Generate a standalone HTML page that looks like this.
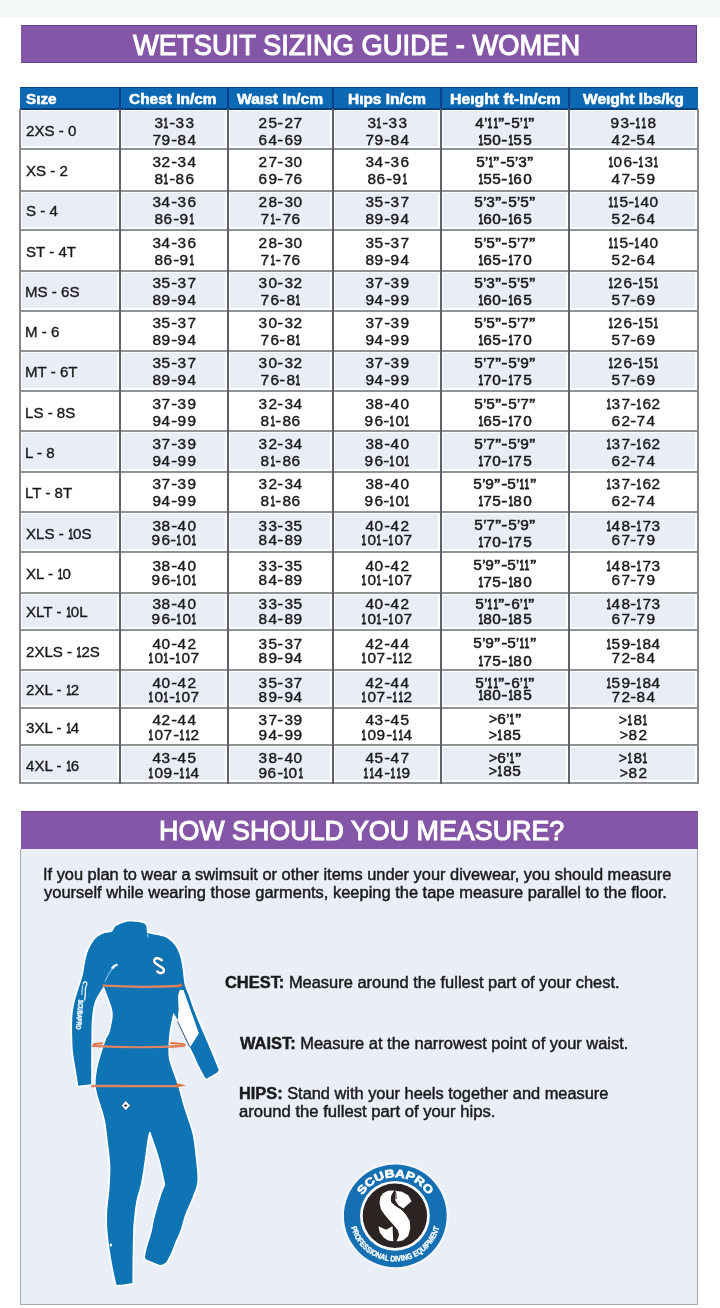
<!DOCTYPE html>
<html><head><meta charset="utf-8">
<style>
html,body{margin:0;padding:0;}
body{width:720px;height:1308px;position:relative;overflow:hidden;background:#fff;font-family:"Liberation Sans",sans-serif;color:#1a1a1c;}
.a{position:absolute;}
.t{position:absolute;white-space:nowrap;line-height:1;transform-origin:0 0;}
#wrap{position:absolute;left:0;top:0;width:720px;height:1308px;will-change:transform;}
.w{color:#fff;font-weight:bold;}
.b{font-weight:bold;}
.d{-webkit-text-stroke:0.4px #1a1a1c;color:#1a1a1c;}
.h{-webkit-text-stroke:0.5px #1a1a1c;color:#1a1a1c;}
.p{-webkit-text-stroke:0.45px #1a1a1c;color:#1a1a1c;}
.w{-webkit-text-stroke:0.3px #fff;}
.ns{-webkit-text-stroke:0;}
.tt{font-weight:normal;-webkit-text-stroke:1.1px #fff;}
.tt2{font-weight:normal;-webkit-text-stroke:1.1px #fff;}
.hx{-webkit-text-stroke:0.55px #fff;}
.lb{-webkit-text-stroke:0.35px #1a1a1c;color:#1a1a1c;}
.t i{display:inline-flex;justify-content:center;font-style:normal;}
.shade{background:#e9edf5;}
.t i.o1{display:inline-block;transform:scaleX(0.6);margin:0 -1.55px;-webkit-text-stroke:0.8px #1a1a1c;}
.d .o{-webkit-text-stroke:0.9px #1a1a1c;}
.h .o{-webkit-text-stroke:1.0px #1a1a1c;}
.hl{height:2px;background:#8f9296;}
.vl{width:2px;background:#5e6168;}
.vb{width:2px;background:#85878b;}
.vh{width:2px;background:#0d3f86;}
</style></head><body>
<div id="wrap">
<div class="a" style="left:0;top:0;width:720px;height:17px;background:#f4f7f7;"></div>
<div class="a" style="left:21px;top:24.5px;width:676px;height:38.5px;background:#8556a7;border-top:1px solid #6a4589;border-right:1px solid #5e3f80;border-bottom:1px solid #6a4589;box-sizing:border-box;"></div>
<div class="t w tt" style="left:133.11px;top:31.45px;font-size:29px;transform:scaleX(0.9418);">WETSUIT SIZING GUIDE - WOMEN</div>
<div class="a shade" style="left:22.3px;top:110.6px;width:95.2px;height:35.9px;"></div><div class="a shade" style="left:122.3px;top:110.6px;width:103.2px;height:35.9px;"></div><div class="a shade" style="left:230.3px;top:110.6px;width:100.2px;height:35.9px;"></div><div class="a shade" style="left:335.3px;top:110.6px;width:103.2px;height:35.9px;"></div><div class="a shade" style="left:443.3px;top:110.6px;width:123.2px;height:35.9px;"></div><div class="a shade" style="left:571.3px;top:110.6px;width:124.2px;height:35.9px;"></div>
<div class="a shade" style="left:22.3px;top:193.2px;width:95.2px;height:34.3px;"></div><div class="a shade" style="left:122.3px;top:193.2px;width:103.2px;height:34.3px;"></div><div class="a shade" style="left:230.3px;top:193.2px;width:100.2px;height:34.3px;"></div><div class="a shade" style="left:335.3px;top:193.2px;width:103.2px;height:34.3px;"></div><div class="a shade" style="left:443.3px;top:193.2px;width:123.2px;height:34.3px;"></div><div class="a shade" style="left:571.3px;top:193.2px;width:124.2px;height:34.3px;"></div>
<div class="a shade" style="left:22.3px;top:273.2px;width:95.2px;height:35.3px;"></div><div class="a shade" style="left:122.3px;top:273.2px;width:103.2px;height:35.3px;"></div><div class="a shade" style="left:230.3px;top:273.2px;width:100.2px;height:35.3px;"></div><div class="a shade" style="left:335.3px;top:273.2px;width:103.2px;height:35.3px;"></div><div class="a shade" style="left:443.3px;top:273.2px;width:123.2px;height:35.3px;"></div><div class="a shade" style="left:571.3px;top:273.2px;width:124.2px;height:35.3px;"></div>
<div class="a shade" style="left:22.3px;top:353.2px;width:95.2px;height:35.3px;"></div><div class="a shade" style="left:122.3px;top:353.2px;width:103.2px;height:35.3px;"></div><div class="a shade" style="left:230.3px;top:353.2px;width:100.2px;height:35.3px;"></div><div class="a shade" style="left:335.3px;top:353.2px;width:103.2px;height:35.3px;"></div><div class="a shade" style="left:443.3px;top:353.2px;width:123.2px;height:35.3px;"></div><div class="a shade" style="left:571.3px;top:353.2px;width:124.2px;height:35.3px;"></div>
<div class="a shade" style="left:22.3px;top:433.2px;width:95.2px;height:36.3px;"></div><div class="a shade" style="left:122.3px;top:433.2px;width:103.2px;height:36.3px;"></div><div class="a shade" style="left:230.3px;top:433.2px;width:100.2px;height:36.3px;"></div><div class="a shade" style="left:335.3px;top:433.2px;width:103.2px;height:36.3px;"></div><div class="a shade" style="left:443.3px;top:433.2px;width:123.2px;height:36.3px;"></div><div class="a shade" style="left:571.3px;top:433.2px;width:124.2px;height:36.3px;"></div>
<div class="a shade" style="left:22.3px;top:514.2px;width:95.2px;height:35.3px;"></div><div class="a shade" style="left:122.3px;top:514.2px;width:103.2px;height:35.3px;"></div><div class="a shade" style="left:230.3px;top:514.2px;width:100.2px;height:35.3px;"></div><div class="a shade" style="left:335.3px;top:514.2px;width:103.2px;height:35.3px;"></div><div class="a shade" style="left:443.3px;top:514.2px;width:123.2px;height:35.3px;"></div><div class="a shade" style="left:571.3px;top:514.2px;width:124.2px;height:35.3px;"></div>
<div class="a shade" style="left:22.3px;top:595.2px;width:95.2px;height:32.3px;"></div><div class="a shade" style="left:122.3px;top:595.2px;width:103.2px;height:32.3px;"></div><div class="a shade" style="left:230.3px;top:595.2px;width:100.2px;height:32.3px;"></div><div class="a shade" style="left:335.3px;top:595.2px;width:103.2px;height:32.3px;"></div><div class="a shade" style="left:443.3px;top:595.2px;width:123.2px;height:32.3px;"></div><div class="a shade" style="left:571.3px;top:595.2px;width:124.2px;height:32.3px;"></div>
<div class="a shade" style="left:22.3px;top:672.2px;width:95.2px;height:33.3px;"></div><div class="a shade" style="left:122.3px;top:672.2px;width:103.2px;height:33.3px;"></div><div class="a shade" style="left:230.3px;top:672.2px;width:100.2px;height:33.3px;"></div><div class="a shade" style="left:335.3px;top:672.2px;width:103.2px;height:33.3px;"></div><div class="a shade" style="left:443.3px;top:672.2px;width:123.2px;height:33.3px;"></div><div class="a shade" style="left:571.3px;top:672.2px;width:124.2px;height:33.3px;"></div>
<div class="a shade" style="left:22.3px;top:747.2px;width:95.2px;height:33.3px;"></div><div class="a shade" style="left:122.3px;top:747.2px;width:103.2px;height:33.3px;"></div><div class="a shade" style="left:230.3px;top:747.2px;width:100.2px;height:33.3px;"></div><div class="a shade" style="left:335.3px;top:747.2px;width:103.2px;height:33.3px;"></div><div class="a shade" style="left:443.3px;top:747.2px;width:123.2px;height:33.3px;"></div><div class="a shade" style="left:571.3px;top:747.2px;width:124.2px;height:33.3px;"></div>
<div class="a" style="left:20px;top:86.5px;width:678px;height:23px;background:#0d68b3;border-top:1px solid #0a4488;border-bottom:2px solid #0b3e7e;box-sizing:border-box;"></div>
<div class="t w hx" style="left:26.06px;top:91.55px;font-size:14px;transform:scaleX(1.0886);">Sıze</div>
<div class="t w hx" style="left:129.34px;top:91.55px;font-size:14px;transform:scaleX(1.1040);">Chest In/cm</div>
<div class="t w hx" style="left:237.10px;top:91.55px;font-size:14px;transform:scaleX(1.1152);">Waıst In/cm</div>
<div class="t w hx" style="left:348.01px;top:91.55px;font-size:14px;transform:scaleX(1.1014);">Hıps In/cm</div>
<div class="t w hx" style="left:449.98px;top:91.55px;font-size:14px;transform:scaleX(1.1279);">Heıght ft-In/cm</div>
<div class="t w hx" style="left:583.00px;top:91.55px;font-size:14px;transform:scaleX(1.1102);">Weıght lbs/kg</div>
<div class="a vh" style="left:119px;top:87px;height:22px;"></div>
<div class="a vh" style="left:227px;top:87px;height:22px;"></div>
<div class="a vh" style="left:332px;top:87px;height:22px;"></div>
<div class="a vh" style="left:440px;top:87px;height:22px;"></div>
<div class="a vh" style="left:568px;top:87px;height:22px;"></div>
<div class="a hl" style="left:19px;top:148px;width:680px;"></div>
<div class="a hl" style="left:19px;top:190px;width:680px;"></div>
<div class="a hl" style="left:19px;top:229px;width:680px;"></div>
<div class="a hl" style="left:19px;top:270px;width:680px;"></div>
<div class="a hl" style="left:19px;top:310px;width:680px;"></div>
<div class="a hl" style="left:19px;top:350px;width:680px;"></div>
<div class="a hl" style="left:19px;top:390px;width:680px;"></div>
<div class="a hl" style="left:19px;top:430px;width:680px;"></div>
<div class="a hl" style="left:19px;top:471px;width:680px;"></div>
<div class="a hl" style="left:19px;top:511px;width:680px;"></div>
<div class="a hl" style="left:19px;top:551px;width:680px;"></div>
<div class="a hl" style="left:19px;top:592px;width:680px;"></div>
<div class="a hl" style="left:19px;top:629px;width:680px;"></div>
<div class="a hl" style="left:19px;top:669px;width:680px;"></div>
<div class="a hl" style="left:19px;top:707px;width:680px;"></div>
<div class="a hl" style="left:19px;top:744px;width:680px;"></div>
<div class="a hl" style="left:19px;top:782px;width:680px;"></div>
<div class="a vb" style="left:19px;top:109px;height:675px;"></div>
<div class="a vl" style="left:119px;top:109px;height:675px;"></div>
<div class="a vl" style="left:227px;top:109px;height:675px;"></div>
<div class="a vl" style="left:332px;top:109px;height:675px;"></div>
<div class="a vl" style="left:440px;top:109px;height:675px;"></div>
<div class="a vl" style="left:568px;top:109px;height:675px;"></div>
<div class="a vb" style="left:697px;top:109px;height:675px;"></div>
<div class="t lb" style="left:25.87px;top:123.98px;font-size:14.5px;transform:scaleX(1.04);">2XS - 0</div>
<div class="t d" style="left:153.85px;top:115.95px;font-size:14px;"><i style="width:9.5px;transform:scaleX(1.1)">3</i><i class="o" style="width:5.6px;transform:scaleX(0.6)">1</i><i style="width:6.2px;transform:scaleX(1.25)">-</i><i style="width:9.5px;transform:scaleX(1.1)">3</i><i style="width:9.5px;transform:scaleX(1.1)">3</i></div><div class="t d" style="left:151.90px;top:132.85px;font-size:14px;"><i style="width:9.5px;transform:scaleX(1.1)">7</i><i style="width:9.5px;transform:scaleX(1.1)">9</i><i style="width:6.2px;transform:scaleX(1.25)">-</i><i style="width:9.5px;transform:scaleX(1.1)">8</i><i style="width:9.5px;transform:scaleX(1.1)">4</i></div>
<div class="t d" style="left:258.40px;top:115.95px;font-size:14px;"><i style="width:9.5px;transform:scaleX(1.1)">2</i><i style="width:9.5px;transform:scaleX(1.1)">5</i><i style="width:6.2px;transform:scaleX(1.25)">-</i><i style="width:9.5px;transform:scaleX(1.1)">2</i><i style="width:9.5px;transform:scaleX(1.1)">7</i></div><div class="t d" style="left:258.40px;top:132.85px;font-size:14px;"><i style="width:9.5px;transform:scaleX(1.1)">6</i><i style="width:9.5px;transform:scaleX(1.1)">4</i><i style="width:6.2px;transform:scaleX(1.25)">-</i><i style="width:9.5px;transform:scaleX(1.1)">6</i><i style="width:9.5px;transform:scaleX(1.1)">9</i></div>
<div class="t d" style="left:366.85px;top:115.95px;font-size:14px;"><i style="width:9.5px;transform:scaleX(1.1)">3</i><i class="o" style="width:5.6px;transform:scaleX(0.6)">1</i><i style="width:6.2px;transform:scaleX(1.25)">-</i><i style="width:9.5px;transform:scaleX(1.1)">3</i><i style="width:9.5px;transform:scaleX(1.1)">3</i></div><div class="t d" style="left:364.90px;top:132.85px;font-size:14px;"><i style="width:9.5px;transform:scaleX(1.1)">7</i><i style="width:9.5px;transform:scaleX(1.1)">9</i><i style="width:6.2px;transform:scaleX(1.25)">-</i><i style="width:9.5px;transform:scaleX(1.1)">8</i><i style="width:9.5px;transform:scaleX(1.1)">4</i></div>
<div class="t h" style="left:475.25px;top:115.95px;font-size:14px;"><i style="width:9.2px;transform:scaleX(1.1)">4</i><i style="width:2.6px;transform:scaleX(1.0)">’</i><i class="o" style="width:5.5px;transform:scaleX(0.6)">1</i><i class="o" style="width:5.5px;transform:scaleX(0.6)">1</i><i style="width:6.2px;transform:scaleX(1.25)">”</i><i style="width:6.5px;transform:scaleX(1.3)">-</i><i style="width:9.2px;transform:scaleX(1.1)">5</i><i style="width:2.6px;transform:scaleX(1.0)">’</i><i class="o" style="width:5.5px;transform:scaleX(0.6)">1</i><i style="width:6.2px;transform:scaleX(1.25)">”</i></div><div class="t h" style="left:477.60px;top:132.85px;font-size:14px;"><i class="o" style="width:5.5px;transform:scaleX(0.6)">1</i><i style="width:9.2px;transform:scaleX(1.1)">5</i><i style="width:9.2px;transform:scaleX(1.1)">0</i><i style="width:6.5px;transform:scaleX(1.3)">-</i><i class="o" style="width:5.5px;transform:scaleX(0.6)">1</i><i style="width:9.2px;transform:scaleX(1.1)">5</i><i style="width:9.2px;transform:scaleX(1.1)">5</i></div>
<div class="t d" style="left:610.30px;top:115.95px;font-size:14px;"><i style="width:9.5px;transform:scaleX(1.1)">9</i><i style="width:9.5px;transform:scaleX(1.1)">3</i><i style="width:6.2px;transform:scaleX(1.25)">-</i><i class="o" style="width:5.6px;transform:scaleX(0.6)">1</i><i class="o" style="width:5.6px;transform:scaleX(0.6)">1</i><i style="width:9.5px;transform:scaleX(1.1)">8</i></div><div class="t d" style="left:611.15px;top:132.85px;font-size:14px;"><i style="width:9.5px;transform:scaleX(1.1)">4</i><i style="width:9.5px;transform:scaleX(1.1)">2</i><i style="width:6.2px;transform:scaleX(1.25)">-</i><i style="width:9.5px;transform:scaleX(1.1)">5</i><i style="width:9.5px;transform:scaleX(1.1)">4</i></div>
<div class="t lb" style="left:26.18px;top:164.23px;font-size:14.5px;transform:scaleX(1.04);">XS - 2</div>
<div class="t d" style="left:151.90px;top:155.25px;font-size:14px;"><i style="width:9.5px;transform:scaleX(1.1)">3</i><i style="width:9.5px;transform:scaleX(1.1)">2</i><i style="width:6.2px;transform:scaleX(1.25)">-</i><i style="width:9.5px;transform:scaleX(1.1)">3</i><i style="width:9.5px;transform:scaleX(1.1)">4</i></div><div class="t d" style="left:153.85px;top:172.45px;font-size:14px;"><i style="width:9.5px;transform:scaleX(1.1)">8</i><i class="o" style="width:5.6px;transform:scaleX(0.6)">1</i><i style="width:6.2px;transform:scaleX(1.25)">-</i><i style="width:9.5px;transform:scaleX(1.1)">8</i><i style="width:9.5px;transform:scaleX(1.1)">6</i></div>
<div class="t d" style="left:258.40px;top:155.25px;font-size:14px;"><i style="width:9.5px;transform:scaleX(1.1)">2</i><i style="width:9.5px;transform:scaleX(1.1)">7</i><i style="width:6.2px;transform:scaleX(1.25)">-</i><i style="width:9.5px;transform:scaleX(1.1)">3</i><i style="width:9.5px;transform:scaleX(1.1)">0</i></div><div class="t d" style="left:258.40px;top:172.45px;font-size:14px;"><i style="width:9.5px;transform:scaleX(1.1)">6</i><i style="width:9.5px;transform:scaleX(1.1)">9</i><i style="width:6.2px;transform:scaleX(1.25)">-</i><i style="width:9.5px;transform:scaleX(1.1)">7</i><i style="width:9.5px;transform:scaleX(1.1)">6</i></div>
<div class="t d" style="left:364.90px;top:155.25px;font-size:14px;"><i style="width:9.5px;transform:scaleX(1.1)">3</i><i style="width:9.5px;transform:scaleX(1.1)">4</i><i style="width:6.2px;transform:scaleX(1.25)">-</i><i style="width:9.5px;transform:scaleX(1.1)">3</i><i style="width:9.5px;transform:scaleX(1.1)">6</i></div><div class="t d" style="left:366.85px;top:172.45px;font-size:14px;"><i style="width:9.5px;transform:scaleX(1.1)">8</i><i style="width:9.5px;transform:scaleX(1.1)">6</i><i style="width:6.2px;transform:scaleX(1.25)">-</i><i style="width:9.5px;transform:scaleX(1.1)">9</i><i class="o" style="width:5.6px;transform:scaleX(0.6)">1</i></div>
<div class="t h" style="left:476.15px;top:155.25px;font-size:14px;"><i style="width:9.2px;transform:scaleX(1.1)">5</i><i style="width:2.6px;transform:scaleX(1.0)">’</i><i class="o" style="width:5.5px;transform:scaleX(0.6)">1</i><i style="width:6.2px;transform:scaleX(1.25)">”</i><i style="width:6.5px;transform:scaleX(1.3)">-</i><i style="width:9.2px;transform:scaleX(1.1)">5</i><i style="width:2.6px;transform:scaleX(1.0)">’</i><i style="width:9.2px;transform:scaleX(1.1)">3</i><i style="width:6.2px;transform:scaleX(1.25)">”</i></div><div class="t h" style="left:477.60px;top:172.45px;font-size:14px;"><i class="o" style="width:5.5px;transform:scaleX(0.6)">1</i><i style="width:9.2px;transform:scaleX(1.1)">5</i><i style="width:9.2px;transform:scaleX(1.1)">5</i><i style="width:6.5px;transform:scaleX(1.3)">-</i><i class="o" style="width:5.5px;transform:scaleX(0.6)">1</i><i style="width:9.2px;transform:scaleX(1.1)">6</i><i style="width:9.2px;transform:scaleX(1.1)">0</i></div>
<div class="t d" style="left:607.50px;top:155.25px;font-size:14px;"><i class="o" style="width:5.6px;transform:scaleX(0.6)">1</i><i style="width:9.5px;transform:scaleX(1.1)">0</i><i style="width:9.5px;transform:scaleX(1.1)">6</i><i style="width:6.2px;transform:scaleX(1.25)">-</i><i class="o" style="width:5.6px;transform:scaleX(0.6)">1</i><i style="width:9.5px;transform:scaleX(1.1)">3</i><i class="o" style="width:5.6px;transform:scaleX(0.6)">1</i></div><div class="t d" style="left:611.15px;top:172.45px;font-size:14px;"><i style="width:9.5px;transform:scaleX(1.1)">4</i><i style="width:9.5px;transform:scaleX(1.1)">7</i><i style="width:6.2px;transform:scaleX(1.25)">-</i><i style="width:9.5px;transform:scaleX(1.1)">5</i><i style="width:9.5px;transform:scaleX(1.1)">9</i></div>
<div class="t lb" style="left:25.87px;top:204.13px;font-size:14.5px;transform:scaleX(1.04);">S - 4</div>
<div class="t d" style="left:151.90px;top:195.25px;font-size:14px;"><i style="width:9.5px;transform:scaleX(1.1)">3</i><i style="width:9.5px;transform:scaleX(1.1)">4</i><i style="width:6.2px;transform:scaleX(1.25)">-</i><i style="width:9.5px;transform:scaleX(1.1)">3</i><i style="width:9.5px;transform:scaleX(1.1)">6</i></div><div class="t d" style="left:153.85px;top:212.25px;font-size:14px;"><i style="width:9.5px;transform:scaleX(1.1)">8</i><i style="width:9.5px;transform:scaleX(1.1)">6</i><i style="width:6.2px;transform:scaleX(1.25)">-</i><i style="width:9.5px;transform:scaleX(1.1)">9</i><i class="o" style="width:5.6px;transform:scaleX(0.6)">1</i></div>
<div class="t d" style="left:258.40px;top:195.25px;font-size:14px;"><i style="width:9.5px;transform:scaleX(1.1)">2</i><i style="width:9.5px;transform:scaleX(1.1)">8</i><i style="width:6.2px;transform:scaleX(1.25)">-</i><i style="width:9.5px;transform:scaleX(1.1)">3</i><i style="width:9.5px;transform:scaleX(1.1)">0</i></div><div class="t d" style="left:260.35px;top:212.25px;font-size:14px;"><i style="width:9.5px;transform:scaleX(1.1)">7</i><i class="o" style="width:5.6px;transform:scaleX(0.6)">1</i><i style="width:6.2px;transform:scaleX(1.25)">-</i><i style="width:9.5px;transform:scaleX(1.1)">7</i><i style="width:9.5px;transform:scaleX(1.1)">6</i></div>
<div class="t d" style="left:364.90px;top:195.25px;font-size:14px;"><i style="width:9.5px;transform:scaleX(1.1)">3</i><i style="width:9.5px;transform:scaleX(1.1)">5</i><i style="width:6.2px;transform:scaleX(1.25)">-</i><i style="width:9.5px;transform:scaleX(1.1)">3</i><i style="width:9.5px;transform:scaleX(1.1)">7</i></div><div class="t d" style="left:364.90px;top:212.25px;font-size:14px;"><i style="width:9.5px;transform:scaleX(1.1)">8</i><i style="width:9.5px;transform:scaleX(1.1)">9</i><i style="width:6.2px;transform:scaleX(1.25)">-</i><i style="width:9.5px;transform:scaleX(1.1)">9</i><i style="width:9.5px;transform:scaleX(1.1)">4</i></div>
<div class="t h" style="left:474.30px;top:195.25px;font-size:14px;"><i style="width:9.2px;transform:scaleX(1.1)">5</i><i style="width:2.6px;transform:scaleX(1.0)">’</i><i style="width:9.2px;transform:scaleX(1.1)">3</i><i style="width:6.2px;transform:scaleX(1.25)">”</i><i style="width:6.5px;transform:scaleX(1.3)">-</i><i style="width:9.2px;transform:scaleX(1.1)">5</i><i style="width:2.6px;transform:scaleX(1.0)">’</i><i style="width:9.2px;transform:scaleX(1.1)">5</i><i style="width:6.2px;transform:scaleX(1.25)">”</i></div><div class="t h" style="left:477.60px;top:212.25px;font-size:14px;"><i class="o" style="width:5.5px;transform:scaleX(0.6)">1</i><i style="width:9.2px;transform:scaleX(1.1)">6</i><i style="width:9.2px;transform:scaleX(1.1)">0</i><i style="width:6.5px;transform:scaleX(1.3)">-</i><i class="o" style="width:5.5px;transform:scaleX(0.6)">1</i><i style="width:9.2px;transform:scaleX(1.1)">6</i><i style="width:9.2px;transform:scaleX(1.1)">5</i></div>
<div class="t d" style="left:607.50px;top:195.25px;font-size:14px;"><i class="o" style="width:5.6px;transform:scaleX(0.6)">1</i><i class="o" style="width:5.6px;transform:scaleX(0.6)">1</i><i style="width:9.5px;transform:scaleX(1.1)">5</i><i style="width:6.2px;transform:scaleX(1.25)">-</i><i class="o" style="width:5.6px;transform:scaleX(0.6)">1</i><i style="width:9.5px;transform:scaleX(1.1)">4</i><i style="width:9.5px;transform:scaleX(1.1)">0</i></div><div class="t d" style="left:611.15px;top:212.25px;font-size:14px;"><i style="width:9.5px;transform:scaleX(1.1)">5</i><i style="width:9.5px;transform:scaleX(1.1)">2</i><i style="width:6.2px;transform:scaleX(1.25)">-</i><i style="width:9.5px;transform:scaleX(1.1)">6</i><i style="width:9.5px;transform:scaleX(1.1)">4</i></div>
<div class="t lb" style="left:25.87px;top:245.23px;font-size:14.5px;transform:scaleX(1.04);">ST - 4T</div>
<div class="t d" style="left:151.90px;top:236.35px;font-size:14px;"><i style="width:9.5px;transform:scaleX(1.1)">3</i><i style="width:9.5px;transform:scaleX(1.1)">4</i><i style="width:6.2px;transform:scaleX(1.25)">-</i><i style="width:9.5px;transform:scaleX(1.1)">3</i><i style="width:9.5px;transform:scaleX(1.1)">6</i></div><div class="t d" style="left:153.85px;top:253.35px;font-size:14px;"><i style="width:9.5px;transform:scaleX(1.1)">8</i><i style="width:9.5px;transform:scaleX(1.1)">6</i><i style="width:6.2px;transform:scaleX(1.25)">-</i><i style="width:9.5px;transform:scaleX(1.1)">9</i><i class="o" style="width:5.6px;transform:scaleX(0.6)">1</i></div>
<div class="t d" style="left:258.40px;top:236.35px;font-size:14px;"><i style="width:9.5px;transform:scaleX(1.1)">2</i><i style="width:9.5px;transform:scaleX(1.1)">8</i><i style="width:6.2px;transform:scaleX(1.25)">-</i><i style="width:9.5px;transform:scaleX(1.1)">3</i><i style="width:9.5px;transform:scaleX(1.1)">0</i></div><div class="t d" style="left:260.35px;top:253.35px;font-size:14px;"><i style="width:9.5px;transform:scaleX(1.1)">7</i><i class="o" style="width:5.6px;transform:scaleX(0.6)">1</i><i style="width:6.2px;transform:scaleX(1.25)">-</i><i style="width:9.5px;transform:scaleX(1.1)">7</i><i style="width:9.5px;transform:scaleX(1.1)">6</i></div>
<div class="t d" style="left:364.90px;top:236.35px;font-size:14px;"><i style="width:9.5px;transform:scaleX(1.1)">3</i><i style="width:9.5px;transform:scaleX(1.1)">5</i><i style="width:6.2px;transform:scaleX(1.25)">-</i><i style="width:9.5px;transform:scaleX(1.1)">3</i><i style="width:9.5px;transform:scaleX(1.1)">7</i></div><div class="t d" style="left:364.90px;top:253.35px;font-size:14px;"><i style="width:9.5px;transform:scaleX(1.1)">8</i><i style="width:9.5px;transform:scaleX(1.1)">9</i><i style="width:6.2px;transform:scaleX(1.25)">-</i><i style="width:9.5px;transform:scaleX(1.1)">9</i><i style="width:9.5px;transform:scaleX(1.1)">4</i></div>
<div class="t h" style="left:474.30px;top:236.35px;font-size:14px;"><i style="width:9.2px;transform:scaleX(1.1)">5</i><i style="width:2.6px;transform:scaleX(1.0)">’</i><i style="width:9.2px;transform:scaleX(1.1)">5</i><i style="width:6.2px;transform:scaleX(1.25)">”</i><i style="width:6.5px;transform:scaleX(1.3)">-</i><i style="width:9.2px;transform:scaleX(1.1)">5</i><i style="width:2.6px;transform:scaleX(1.0)">’</i><i style="width:9.2px;transform:scaleX(1.1)">7</i><i style="width:6.2px;transform:scaleX(1.25)">”</i></div><div class="t h" style="left:477.60px;top:253.35px;font-size:14px;"><i class="o" style="width:5.5px;transform:scaleX(0.6)">1</i><i style="width:9.2px;transform:scaleX(1.1)">6</i><i style="width:9.2px;transform:scaleX(1.1)">5</i><i style="width:6.5px;transform:scaleX(1.3)">-</i><i class="o" style="width:5.5px;transform:scaleX(0.6)">1</i><i style="width:9.2px;transform:scaleX(1.1)">7</i><i style="width:9.2px;transform:scaleX(1.1)">0</i></div>
<div class="t d" style="left:607.50px;top:236.35px;font-size:14px;"><i class="o" style="width:5.6px;transform:scaleX(0.6)">1</i><i class="o" style="width:5.6px;transform:scaleX(0.6)">1</i><i style="width:9.5px;transform:scaleX(1.1)">5</i><i style="width:6.2px;transform:scaleX(1.25)">-</i><i class="o" style="width:5.6px;transform:scaleX(0.6)">1</i><i style="width:9.5px;transform:scaleX(1.1)">4</i><i style="width:9.5px;transform:scaleX(1.1)">0</i></div><div class="t d" style="left:611.15px;top:253.35px;font-size:14px;"><i style="width:9.5px;transform:scaleX(1.1)">5</i><i style="width:9.5px;transform:scaleX(1.1)">2</i><i style="width:6.2px;transform:scaleX(1.25)">-</i><i style="width:9.5px;transform:scaleX(1.1)">6</i><i style="width:9.5px;transform:scaleX(1.1)">4</i></div>
<div class="t lb" style="left:25.35px;top:285.23px;font-size:14.5px;transform:scaleX(1.04);">MS - 6S</div>
<div class="t d" style="left:151.90px;top:276.35px;font-size:14px;"><i style="width:9.5px;transform:scaleX(1.1)">3</i><i style="width:9.5px;transform:scaleX(1.1)">5</i><i style="width:6.2px;transform:scaleX(1.25)">-</i><i style="width:9.5px;transform:scaleX(1.1)">3</i><i style="width:9.5px;transform:scaleX(1.1)">7</i></div><div class="t d" style="left:151.90px;top:293.35px;font-size:14px;"><i style="width:9.5px;transform:scaleX(1.1)">8</i><i style="width:9.5px;transform:scaleX(1.1)">9</i><i style="width:6.2px;transform:scaleX(1.25)">-</i><i style="width:9.5px;transform:scaleX(1.1)">9</i><i style="width:9.5px;transform:scaleX(1.1)">4</i></div>
<div class="t d" style="left:258.40px;top:276.35px;font-size:14px;"><i style="width:9.5px;transform:scaleX(1.1)">3</i><i style="width:9.5px;transform:scaleX(1.1)">0</i><i style="width:6.2px;transform:scaleX(1.25)">-</i><i style="width:9.5px;transform:scaleX(1.1)">3</i><i style="width:9.5px;transform:scaleX(1.1)">2</i></div><div class="t d" style="left:260.35px;top:293.35px;font-size:14px;"><i style="width:9.5px;transform:scaleX(1.1)">7</i><i style="width:9.5px;transform:scaleX(1.1)">6</i><i style="width:6.2px;transform:scaleX(1.25)">-</i><i style="width:9.5px;transform:scaleX(1.1)">8</i><i class="o" style="width:5.6px;transform:scaleX(0.6)">1</i></div>
<div class="t d" style="left:364.90px;top:276.35px;font-size:14px;"><i style="width:9.5px;transform:scaleX(1.1)">3</i><i style="width:9.5px;transform:scaleX(1.1)">7</i><i style="width:6.2px;transform:scaleX(1.25)">-</i><i style="width:9.5px;transform:scaleX(1.1)">3</i><i style="width:9.5px;transform:scaleX(1.1)">9</i></div><div class="t d" style="left:364.90px;top:293.35px;font-size:14px;"><i style="width:9.5px;transform:scaleX(1.1)">9</i><i style="width:9.5px;transform:scaleX(1.1)">4</i><i style="width:6.2px;transform:scaleX(1.25)">-</i><i style="width:9.5px;transform:scaleX(1.1)">9</i><i style="width:9.5px;transform:scaleX(1.1)">9</i></div>
<div class="t h" style="left:474.30px;top:276.35px;font-size:14px;"><i style="width:9.2px;transform:scaleX(1.1)">5</i><i style="width:2.6px;transform:scaleX(1.0)">’</i><i style="width:9.2px;transform:scaleX(1.1)">3</i><i style="width:6.2px;transform:scaleX(1.25)">”</i><i style="width:6.5px;transform:scaleX(1.3)">-</i><i style="width:9.2px;transform:scaleX(1.1)">5</i><i style="width:2.6px;transform:scaleX(1.0)">’</i><i style="width:9.2px;transform:scaleX(1.1)">5</i><i style="width:6.2px;transform:scaleX(1.25)">”</i></div><div class="t h" style="left:477.60px;top:293.35px;font-size:14px;"><i class="o" style="width:5.5px;transform:scaleX(0.6)">1</i><i style="width:9.2px;transform:scaleX(1.1)">6</i><i style="width:9.2px;transform:scaleX(1.1)">0</i><i style="width:6.5px;transform:scaleX(1.3)">-</i><i class="o" style="width:5.5px;transform:scaleX(0.6)">1</i><i style="width:9.2px;transform:scaleX(1.1)">6</i><i style="width:9.2px;transform:scaleX(1.1)">5</i></div>
<div class="t d" style="left:607.50px;top:276.35px;font-size:14px;"><i class="o" style="width:5.6px;transform:scaleX(0.6)">1</i><i style="width:9.5px;transform:scaleX(1.1)">2</i><i style="width:9.5px;transform:scaleX(1.1)">6</i><i style="width:6.2px;transform:scaleX(1.25)">-</i><i class="o" style="width:5.6px;transform:scaleX(0.6)">1</i><i style="width:9.5px;transform:scaleX(1.1)">5</i><i class="o" style="width:5.6px;transform:scaleX(0.6)">1</i></div><div class="t d" style="left:611.15px;top:293.35px;font-size:14px;"><i style="width:9.5px;transform:scaleX(1.1)">5</i><i style="width:9.5px;transform:scaleX(1.1)">7</i><i style="width:6.2px;transform:scaleX(1.25)">-</i><i style="width:9.5px;transform:scaleX(1.1)">6</i><i style="width:9.5px;transform:scaleX(1.1)">9</i></div>
<div class="t lb" style="left:25.35px;top:324.73px;font-size:14.5px;transform:scaleX(1.04);">M - 6</div>
<div class="t d" style="left:151.90px;top:315.75px;font-size:14px;"><i style="width:9.5px;transform:scaleX(1.1)">3</i><i style="width:9.5px;transform:scaleX(1.1)">5</i><i style="width:6.2px;transform:scaleX(1.25)">-</i><i style="width:9.5px;transform:scaleX(1.1)">3</i><i style="width:9.5px;transform:scaleX(1.1)">7</i></div><div class="t d" style="left:151.90px;top:332.95px;font-size:14px;"><i style="width:9.5px;transform:scaleX(1.1)">8</i><i style="width:9.5px;transform:scaleX(1.1)">9</i><i style="width:6.2px;transform:scaleX(1.25)">-</i><i style="width:9.5px;transform:scaleX(1.1)">9</i><i style="width:9.5px;transform:scaleX(1.1)">4</i></div>
<div class="t d" style="left:258.40px;top:315.75px;font-size:14px;"><i style="width:9.5px;transform:scaleX(1.1)">3</i><i style="width:9.5px;transform:scaleX(1.1)">0</i><i style="width:6.2px;transform:scaleX(1.25)">-</i><i style="width:9.5px;transform:scaleX(1.1)">3</i><i style="width:9.5px;transform:scaleX(1.1)">2</i></div><div class="t d" style="left:260.35px;top:332.95px;font-size:14px;"><i style="width:9.5px;transform:scaleX(1.1)">7</i><i style="width:9.5px;transform:scaleX(1.1)">6</i><i style="width:6.2px;transform:scaleX(1.25)">-</i><i style="width:9.5px;transform:scaleX(1.1)">8</i><i class="o" style="width:5.6px;transform:scaleX(0.6)">1</i></div>
<div class="t d" style="left:364.90px;top:315.75px;font-size:14px;"><i style="width:9.5px;transform:scaleX(1.1)">3</i><i style="width:9.5px;transform:scaleX(1.1)">7</i><i style="width:6.2px;transform:scaleX(1.25)">-</i><i style="width:9.5px;transform:scaleX(1.1)">3</i><i style="width:9.5px;transform:scaleX(1.1)">9</i></div><div class="t d" style="left:364.90px;top:332.95px;font-size:14px;"><i style="width:9.5px;transform:scaleX(1.1)">9</i><i style="width:9.5px;transform:scaleX(1.1)">4</i><i style="width:6.2px;transform:scaleX(1.25)">-</i><i style="width:9.5px;transform:scaleX(1.1)">9</i><i style="width:9.5px;transform:scaleX(1.1)">9</i></div>
<div class="t h" style="left:474.30px;top:315.75px;font-size:14px;"><i style="width:9.2px;transform:scaleX(1.1)">5</i><i style="width:2.6px;transform:scaleX(1.0)">’</i><i style="width:9.2px;transform:scaleX(1.1)">5</i><i style="width:6.2px;transform:scaleX(1.25)">”</i><i style="width:6.5px;transform:scaleX(1.3)">-</i><i style="width:9.2px;transform:scaleX(1.1)">5</i><i style="width:2.6px;transform:scaleX(1.0)">’</i><i style="width:9.2px;transform:scaleX(1.1)">7</i><i style="width:6.2px;transform:scaleX(1.25)">”</i></div><div class="t h" style="left:477.60px;top:332.95px;font-size:14px;"><i class="o" style="width:5.5px;transform:scaleX(0.6)">1</i><i style="width:9.2px;transform:scaleX(1.1)">6</i><i style="width:9.2px;transform:scaleX(1.1)">5</i><i style="width:6.5px;transform:scaleX(1.3)">-</i><i class="o" style="width:5.5px;transform:scaleX(0.6)">1</i><i style="width:9.2px;transform:scaleX(1.1)">7</i><i style="width:9.2px;transform:scaleX(1.1)">0</i></div>
<div class="t d" style="left:607.50px;top:315.75px;font-size:14px;"><i class="o" style="width:5.6px;transform:scaleX(0.6)">1</i><i style="width:9.5px;transform:scaleX(1.1)">2</i><i style="width:9.5px;transform:scaleX(1.1)">6</i><i style="width:6.2px;transform:scaleX(1.25)">-</i><i class="o" style="width:5.6px;transform:scaleX(0.6)">1</i><i style="width:9.5px;transform:scaleX(1.1)">5</i><i class="o" style="width:5.6px;transform:scaleX(0.6)">1</i></div><div class="t d" style="left:611.15px;top:332.95px;font-size:14px;"><i style="width:9.5px;transform:scaleX(1.1)">5</i><i style="width:9.5px;transform:scaleX(1.1)">7</i><i style="width:6.2px;transform:scaleX(1.25)">-</i><i style="width:9.5px;transform:scaleX(1.1)">6</i><i style="width:9.5px;transform:scaleX(1.1)">9</i></div>
<div class="t lb" style="left:25.35px;top:364.73px;font-size:14.5px;transform:scaleX(1.04);">MT - 6T</div>
<div class="t d" style="left:151.90px;top:355.75px;font-size:14px;"><i style="width:9.5px;transform:scaleX(1.1)">3</i><i style="width:9.5px;transform:scaleX(1.1)">5</i><i style="width:6.2px;transform:scaleX(1.25)">-</i><i style="width:9.5px;transform:scaleX(1.1)">3</i><i style="width:9.5px;transform:scaleX(1.1)">7</i></div><div class="t d" style="left:151.90px;top:372.95px;font-size:14px;"><i style="width:9.5px;transform:scaleX(1.1)">8</i><i style="width:9.5px;transform:scaleX(1.1)">9</i><i style="width:6.2px;transform:scaleX(1.25)">-</i><i style="width:9.5px;transform:scaleX(1.1)">9</i><i style="width:9.5px;transform:scaleX(1.1)">4</i></div>
<div class="t d" style="left:258.40px;top:355.75px;font-size:14px;"><i style="width:9.5px;transform:scaleX(1.1)">3</i><i style="width:9.5px;transform:scaleX(1.1)">0</i><i style="width:6.2px;transform:scaleX(1.25)">-</i><i style="width:9.5px;transform:scaleX(1.1)">3</i><i style="width:9.5px;transform:scaleX(1.1)">2</i></div><div class="t d" style="left:260.35px;top:372.95px;font-size:14px;"><i style="width:9.5px;transform:scaleX(1.1)">7</i><i style="width:9.5px;transform:scaleX(1.1)">6</i><i style="width:6.2px;transform:scaleX(1.25)">-</i><i style="width:9.5px;transform:scaleX(1.1)">8</i><i class="o" style="width:5.6px;transform:scaleX(0.6)">1</i></div>
<div class="t d" style="left:364.90px;top:355.75px;font-size:14px;"><i style="width:9.5px;transform:scaleX(1.1)">3</i><i style="width:9.5px;transform:scaleX(1.1)">7</i><i style="width:6.2px;transform:scaleX(1.25)">-</i><i style="width:9.5px;transform:scaleX(1.1)">3</i><i style="width:9.5px;transform:scaleX(1.1)">9</i></div><div class="t d" style="left:364.90px;top:372.95px;font-size:14px;"><i style="width:9.5px;transform:scaleX(1.1)">9</i><i style="width:9.5px;transform:scaleX(1.1)">4</i><i style="width:6.2px;transform:scaleX(1.25)">-</i><i style="width:9.5px;transform:scaleX(1.1)">9</i><i style="width:9.5px;transform:scaleX(1.1)">9</i></div>
<div class="t h" style="left:474.30px;top:355.75px;font-size:14px;"><i style="width:9.2px;transform:scaleX(1.1)">5</i><i style="width:2.6px;transform:scaleX(1.0)">’</i><i style="width:9.2px;transform:scaleX(1.1)">7</i><i style="width:6.2px;transform:scaleX(1.25)">”</i><i style="width:6.5px;transform:scaleX(1.3)">-</i><i style="width:9.2px;transform:scaleX(1.1)">5</i><i style="width:2.6px;transform:scaleX(1.0)">’</i><i style="width:9.2px;transform:scaleX(1.1)">9</i><i style="width:6.2px;transform:scaleX(1.25)">”</i></div><div class="t h" style="left:477.60px;top:372.95px;font-size:14px;"><i class="o" style="width:5.5px;transform:scaleX(0.6)">1</i><i style="width:9.2px;transform:scaleX(1.1)">7</i><i style="width:9.2px;transform:scaleX(1.1)">0</i><i style="width:6.5px;transform:scaleX(1.3)">-</i><i class="o" style="width:5.5px;transform:scaleX(0.6)">1</i><i style="width:9.2px;transform:scaleX(1.1)">7</i><i style="width:9.2px;transform:scaleX(1.1)">5</i></div>
<div class="t d" style="left:607.50px;top:355.75px;font-size:14px;"><i class="o" style="width:5.6px;transform:scaleX(0.6)">1</i><i style="width:9.5px;transform:scaleX(1.1)">2</i><i style="width:9.5px;transform:scaleX(1.1)">6</i><i style="width:6.2px;transform:scaleX(1.25)">-</i><i class="o" style="width:5.6px;transform:scaleX(0.6)">1</i><i style="width:9.5px;transform:scaleX(1.1)">5</i><i class="o" style="width:5.6px;transform:scaleX(0.6)">1</i></div><div class="t d" style="left:611.15px;top:372.95px;font-size:14px;"><i style="width:9.5px;transform:scaleX(1.1)">5</i><i style="width:9.5px;transform:scaleX(1.1)">7</i><i style="width:6.2px;transform:scaleX(1.25)">-</i><i style="width:9.5px;transform:scaleX(1.1)">6</i><i style="width:9.5px;transform:scaleX(1.1)">9</i></div>
<div class="t lb" style="left:25.35px;top:406.03px;font-size:14.5px;transform:scaleX(1.04);">LS - 8S</div>
<div class="t d" style="left:151.90px;top:397.15px;font-size:14px;"><i style="width:9.5px;transform:scaleX(1.1)">3</i><i style="width:9.5px;transform:scaleX(1.1)">7</i><i style="width:6.2px;transform:scaleX(1.25)">-</i><i style="width:9.5px;transform:scaleX(1.1)">3</i><i style="width:9.5px;transform:scaleX(1.1)">9</i></div><div class="t d" style="left:151.90px;top:414.15px;font-size:14px;"><i style="width:9.5px;transform:scaleX(1.1)">9</i><i style="width:9.5px;transform:scaleX(1.1)">4</i><i style="width:6.2px;transform:scaleX(1.25)">-</i><i style="width:9.5px;transform:scaleX(1.1)">9</i><i style="width:9.5px;transform:scaleX(1.1)">9</i></div>
<div class="t d" style="left:258.40px;top:397.15px;font-size:14px;"><i style="width:9.5px;transform:scaleX(1.1)">3</i><i style="width:9.5px;transform:scaleX(1.1)">2</i><i style="width:6.2px;transform:scaleX(1.25)">-</i><i style="width:9.5px;transform:scaleX(1.1)">3</i><i style="width:9.5px;transform:scaleX(1.1)">4</i></div><div class="t d" style="left:260.35px;top:414.15px;font-size:14px;"><i style="width:9.5px;transform:scaleX(1.1)">8</i><i class="o" style="width:5.6px;transform:scaleX(0.6)">1</i><i style="width:6.2px;transform:scaleX(1.25)">-</i><i style="width:9.5px;transform:scaleX(1.1)">8</i><i style="width:9.5px;transform:scaleX(1.1)">6</i></div>
<div class="t d" style="left:364.90px;top:397.15px;font-size:14px;"><i style="width:9.5px;transform:scaleX(1.1)">3</i><i style="width:9.5px;transform:scaleX(1.1)">8</i><i style="width:6.2px;transform:scaleX(1.25)">-</i><i style="width:9.5px;transform:scaleX(1.1)">4</i><i style="width:9.5px;transform:scaleX(1.1)">0</i></div><div class="t d" style="left:364.05px;top:414.15px;font-size:14px;"><i style="width:9.5px;transform:scaleX(1.1)">9</i><i style="width:9.5px;transform:scaleX(1.1)">6</i><i style="width:6.2px;transform:scaleX(1.25)">-</i><i class="o" style="width:5.6px;transform:scaleX(0.6)">1</i><i style="width:9.5px;transform:scaleX(1.1)">0</i><i class="o" style="width:5.6px;transform:scaleX(0.6)">1</i></div>
<div class="t h" style="left:474.30px;top:397.15px;font-size:14px;"><i style="width:9.2px;transform:scaleX(1.1)">5</i><i style="width:2.6px;transform:scaleX(1.0)">’</i><i style="width:9.2px;transform:scaleX(1.1)">5</i><i style="width:6.2px;transform:scaleX(1.25)">”</i><i style="width:6.5px;transform:scaleX(1.3)">-</i><i style="width:9.2px;transform:scaleX(1.1)">5</i><i style="width:2.6px;transform:scaleX(1.0)">’</i><i style="width:9.2px;transform:scaleX(1.1)">7</i><i style="width:6.2px;transform:scaleX(1.25)">”</i></div><div class="t h" style="left:477.60px;top:414.15px;font-size:14px;"><i class="o" style="width:5.5px;transform:scaleX(0.6)">1</i><i style="width:9.2px;transform:scaleX(1.1)">6</i><i style="width:9.2px;transform:scaleX(1.1)">5</i><i style="width:6.5px;transform:scaleX(1.3)">-</i><i class="o" style="width:5.5px;transform:scaleX(0.6)">1</i><i style="width:9.2px;transform:scaleX(1.1)">7</i><i style="width:9.2px;transform:scaleX(1.1)">0</i></div>
<div class="t d" style="left:605.55px;top:397.15px;font-size:14px;"><i class="o" style="width:5.6px;transform:scaleX(0.6)">1</i><i style="width:9.5px;transform:scaleX(1.1)">3</i><i style="width:9.5px;transform:scaleX(1.1)">7</i><i style="width:6.2px;transform:scaleX(1.25)">-</i><i class="o" style="width:5.6px;transform:scaleX(0.6)">1</i><i style="width:9.5px;transform:scaleX(1.1)">6</i><i style="width:9.5px;transform:scaleX(1.1)">2</i></div><div class="t d" style="left:611.15px;top:414.15px;font-size:14px;"><i style="width:9.5px;transform:scaleX(1.1)">6</i><i style="width:9.5px;transform:scaleX(1.1)">2</i><i style="width:6.2px;transform:scaleX(1.25)">-</i><i style="width:9.5px;transform:scaleX(1.1)">7</i><i style="width:9.5px;transform:scaleX(1.1)">4</i></div>
<div class="t lb" style="left:25.35px;top:445.88px;font-size:14.5px;transform:scaleX(1.04);">L - 8</div>
<div class="t d" style="left:151.90px;top:437.05px;font-size:14px;"><i style="width:9.5px;transform:scaleX(1.1)">3</i><i style="width:9.5px;transform:scaleX(1.1)">7</i><i style="width:6.2px;transform:scaleX(1.25)">-</i><i style="width:9.5px;transform:scaleX(1.1)">3</i><i style="width:9.5px;transform:scaleX(1.1)">9</i></div><div class="t d" style="left:151.90px;top:453.95px;font-size:14px;"><i style="width:9.5px;transform:scaleX(1.1)">9</i><i style="width:9.5px;transform:scaleX(1.1)">4</i><i style="width:6.2px;transform:scaleX(1.25)">-</i><i style="width:9.5px;transform:scaleX(1.1)">9</i><i style="width:9.5px;transform:scaleX(1.1)">9</i></div>
<div class="t d" style="left:258.40px;top:437.05px;font-size:14px;"><i style="width:9.5px;transform:scaleX(1.1)">3</i><i style="width:9.5px;transform:scaleX(1.1)">2</i><i style="width:6.2px;transform:scaleX(1.25)">-</i><i style="width:9.5px;transform:scaleX(1.1)">3</i><i style="width:9.5px;transform:scaleX(1.1)">4</i></div><div class="t d" style="left:260.35px;top:453.95px;font-size:14px;"><i style="width:9.5px;transform:scaleX(1.1)">8</i><i class="o" style="width:5.6px;transform:scaleX(0.6)">1</i><i style="width:6.2px;transform:scaleX(1.25)">-</i><i style="width:9.5px;transform:scaleX(1.1)">8</i><i style="width:9.5px;transform:scaleX(1.1)">6</i></div>
<div class="t d" style="left:364.90px;top:437.05px;font-size:14px;"><i style="width:9.5px;transform:scaleX(1.1)">3</i><i style="width:9.5px;transform:scaleX(1.1)">8</i><i style="width:6.2px;transform:scaleX(1.25)">-</i><i style="width:9.5px;transform:scaleX(1.1)">4</i><i style="width:9.5px;transform:scaleX(1.1)">0</i></div><div class="t d" style="left:364.05px;top:453.95px;font-size:14px;"><i style="width:9.5px;transform:scaleX(1.1)">9</i><i style="width:9.5px;transform:scaleX(1.1)">6</i><i style="width:6.2px;transform:scaleX(1.25)">-</i><i class="o" style="width:5.6px;transform:scaleX(0.6)">1</i><i style="width:9.5px;transform:scaleX(1.1)">0</i><i class="o" style="width:5.6px;transform:scaleX(0.6)">1</i></div>
<div class="t h" style="left:474.30px;top:437.05px;font-size:14px;"><i style="width:9.2px;transform:scaleX(1.1)">5</i><i style="width:2.6px;transform:scaleX(1.0)">’</i><i style="width:9.2px;transform:scaleX(1.1)">7</i><i style="width:6.2px;transform:scaleX(1.25)">”</i><i style="width:6.5px;transform:scaleX(1.3)">-</i><i style="width:9.2px;transform:scaleX(1.1)">5</i><i style="width:2.6px;transform:scaleX(1.0)">’</i><i style="width:9.2px;transform:scaleX(1.1)">9</i><i style="width:6.2px;transform:scaleX(1.25)">”</i></div><div class="t h" style="left:477.60px;top:453.95px;font-size:14px;"><i class="o" style="width:5.5px;transform:scaleX(0.6)">1</i><i style="width:9.2px;transform:scaleX(1.1)">7</i><i style="width:9.2px;transform:scaleX(1.1)">0</i><i style="width:6.5px;transform:scaleX(1.3)">-</i><i class="o" style="width:5.5px;transform:scaleX(0.6)">1</i><i style="width:9.2px;transform:scaleX(1.1)">7</i><i style="width:9.2px;transform:scaleX(1.1)">5</i></div>
<div class="t d" style="left:605.55px;top:437.05px;font-size:14px;"><i class="o" style="width:5.6px;transform:scaleX(0.6)">1</i><i style="width:9.5px;transform:scaleX(1.1)">3</i><i style="width:9.5px;transform:scaleX(1.1)">7</i><i style="width:6.2px;transform:scaleX(1.25)">-</i><i class="o" style="width:5.6px;transform:scaleX(0.6)">1</i><i style="width:9.5px;transform:scaleX(1.1)">6</i><i style="width:9.5px;transform:scaleX(1.1)">2</i></div><div class="t d" style="left:611.15px;top:453.95px;font-size:14px;"><i style="width:9.5px;transform:scaleX(1.1)">6</i><i style="width:9.5px;transform:scaleX(1.1)">2</i><i style="width:6.2px;transform:scaleX(1.25)">-</i><i style="width:9.5px;transform:scaleX(1.1)">7</i><i style="width:9.5px;transform:scaleX(1.1)">4</i></div>
<div class="t lb" style="left:25.35px;top:485.58px;font-size:14.5px;transform:scaleX(1.04);">LT - 8T</div>
<div class="t d" style="left:151.90px;top:476.65px;font-size:14px;"><i style="width:9.5px;transform:scaleX(1.1)">3</i><i style="width:9.5px;transform:scaleX(1.1)">7</i><i style="width:6.2px;transform:scaleX(1.25)">-</i><i style="width:9.5px;transform:scaleX(1.1)">3</i><i style="width:9.5px;transform:scaleX(1.1)">9</i></div><div class="t d" style="left:151.90px;top:493.75px;font-size:14px;"><i style="width:9.5px;transform:scaleX(1.1)">9</i><i style="width:9.5px;transform:scaleX(1.1)">4</i><i style="width:6.2px;transform:scaleX(1.25)">-</i><i style="width:9.5px;transform:scaleX(1.1)">9</i><i style="width:9.5px;transform:scaleX(1.1)">9</i></div>
<div class="t d" style="left:258.40px;top:476.65px;font-size:14px;"><i style="width:9.5px;transform:scaleX(1.1)">3</i><i style="width:9.5px;transform:scaleX(1.1)">2</i><i style="width:6.2px;transform:scaleX(1.25)">-</i><i style="width:9.5px;transform:scaleX(1.1)">3</i><i style="width:9.5px;transform:scaleX(1.1)">4</i></div><div class="t d" style="left:260.35px;top:493.75px;font-size:14px;"><i style="width:9.5px;transform:scaleX(1.1)">8</i><i class="o" style="width:5.6px;transform:scaleX(0.6)">1</i><i style="width:6.2px;transform:scaleX(1.25)">-</i><i style="width:9.5px;transform:scaleX(1.1)">8</i><i style="width:9.5px;transform:scaleX(1.1)">6</i></div>
<div class="t d" style="left:364.90px;top:476.65px;font-size:14px;"><i style="width:9.5px;transform:scaleX(1.1)">3</i><i style="width:9.5px;transform:scaleX(1.1)">8</i><i style="width:6.2px;transform:scaleX(1.25)">-</i><i style="width:9.5px;transform:scaleX(1.1)">4</i><i style="width:9.5px;transform:scaleX(1.1)">0</i></div><div class="t d" style="left:364.05px;top:493.75px;font-size:14px;"><i style="width:9.5px;transform:scaleX(1.1)">9</i><i style="width:9.5px;transform:scaleX(1.1)">6</i><i style="width:6.2px;transform:scaleX(1.25)">-</i><i class="o" style="width:5.6px;transform:scaleX(0.6)">1</i><i style="width:9.5px;transform:scaleX(1.1)">0</i><i class="o" style="width:5.6px;transform:scaleX(0.6)">1</i></div>
<div class="t h" style="left:473.40px;top:476.65px;font-size:14px;"><i style="width:9.2px;transform:scaleX(1.1)">5</i><i style="width:2.6px;transform:scaleX(1.0)">’</i><i style="width:9.2px;transform:scaleX(1.1)">9</i><i style="width:6.2px;transform:scaleX(1.25)">”</i><i style="width:6.5px;transform:scaleX(1.3)">-</i><i style="width:9.2px;transform:scaleX(1.1)">5</i><i style="width:2.6px;transform:scaleX(1.0)">’</i><i class="o" style="width:5.5px;transform:scaleX(0.6)">1</i><i class="o" style="width:5.5px;transform:scaleX(0.6)">1</i><i style="width:6.2px;transform:scaleX(1.25)">”</i></div><div class="t h" style="left:477.60px;top:493.75px;font-size:14px;"><i class="o" style="width:5.5px;transform:scaleX(0.6)">1</i><i style="width:9.2px;transform:scaleX(1.1)">7</i><i style="width:9.2px;transform:scaleX(1.1)">5</i><i style="width:6.5px;transform:scaleX(1.3)">-</i><i class="o" style="width:5.5px;transform:scaleX(0.6)">1</i><i style="width:9.2px;transform:scaleX(1.1)">8</i><i style="width:9.2px;transform:scaleX(1.1)">0</i></div>
<div class="t d" style="left:605.55px;top:476.65px;font-size:14px;"><i class="o" style="width:5.6px;transform:scaleX(0.6)">1</i><i style="width:9.5px;transform:scaleX(1.1)">3</i><i style="width:9.5px;transform:scaleX(1.1)">7</i><i style="width:6.2px;transform:scaleX(1.25)">-</i><i class="o" style="width:5.6px;transform:scaleX(0.6)">1</i><i style="width:9.5px;transform:scaleX(1.1)">6</i><i style="width:9.5px;transform:scaleX(1.1)">2</i></div><div class="t d" style="left:611.15px;top:493.75px;font-size:14px;"><i style="width:9.5px;transform:scaleX(1.1)">6</i><i style="width:9.5px;transform:scaleX(1.1)">2</i><i style="width:6.2px;transform:scaleX(1.25)">-</i><i style="width:9.5px;transform:scaleX(1.1)">7</i><i style="width:9.5px;transform:scaleX(1.1)">4</i></div>
<div class="t lb" style="left:26.18px;top:526.73px;font-size:14.5px;transform:scaleX(1.04);">XLS - <i class="o1">1</i>0S</div>
<div class="t d" style="left:151.90px;top:519.35px;font-size:14px;"><i style="width:9.5px;transform:scaleX(1.1)">3</i><i style="width:9.5px;transform:scaleX(1.1)">8</i><i style="width:6.2px;transform:scaleX(1.25)">-</i><i style="width:9.5px;transform:scaleX(1.1)">4</i><i style="width:9.5px;transform:scaleX(1.1)">0</i></div><div class="t d" style="left:151.05px;top:533.35px;font-size:14px;"><i style="width:9.5px;transform:scaleX(1.1)">9</i><i style="width:9.5px;transform:scaleX(1.1)">6</i><i style="width:6.2px;transform:scaleX(1.25)">-</i><i class="o" style="width:5.6px;transform:scaleX(0.6)">1</i><i style="width:9.5px;transform:scaleX(1.1)">0</i><i class="o" style="width:5.6px;transform:scaleX(0.6)">1</i></div>
<div class="t d" style="left:258.40px;top:519.35px;font-size:14px;"><i style="width:9.5px;transform:scaleX(1.1)">3</i><i style="width:9.5px;transform:scaleX(1.1)">3</i><i style="width:6.2px;transform:scaleX(1.25)">-</i><i style="width:9.5px;transform:scaleX(1.1)">3</i><i style="width:9.5px;transform:scaleX(1.1)">5</i></div><div class="t d" style="left:258.40px;top:533.35px;font-size:14px;"><i style="width:9.5px;transform:scaleX(1.1)">8</i><i style="width:9.5px;transform:scaleX(1.1)">4</i><i style="width:6.2px;transform:scaleX(1.25)">-</i><i style="width:9.5px;transform:scaleX(1.1)">8</i><i style="width:9.5px;transform:scaleX(1.1)">9</i></div>
<div class="t d" style="left:364.90px;top:519.35px;font-size:14px;"><i style="width:9.5px;transform:scaleX(1.1)">4</i><i style="width:9.5px;transform:scaleX(1.1)">0</i><i style="width:6.2px;transform:scaleX(1.25)">-</i><i style="width:9.5px;transform:scaleX(1.1)">4</i><i style="width:9.5px;transform:scaleX(1.1)">2</i></div><div class="t d" style="left:361.25px;top:533.35px;font-size:14px;"><i class="o" style="width:5.6px;transform:scaleX(0.6)">1</i><i style="width:9.5px;transform:scaleX(1.1)">0</i><i class="o" style="width:5.6px;transform:scaleX(0.6)">1</i><i style="width:6.2px;transform:scaleX(1.25)">-</i><i class="o" style="width:5.6px;transform:scaleX(0.6)">1</i><i style="width:9.5px;transform:scaleX(1.1)">0</i><i style="width:9.5px;transform:scaleX(1.1)">7</i></div>
<div class="t h" style="left:474.30px;top:517.95px;font-size:14px;"><i style="width:9.2px;transform:scaleX(1.1)">5</i><i style="width:2.6px;transform:scaleX(1.0)">’</i><i style="width:9.2px;transform:scaleX(1.1)">7</i><i style="width:6.2px;transform:scaleX(1.25)">”</i><i style="width:6.5px;transform:scaleX(1.3)">-</i><i style="width:9.2px;transform:scaleX(1.1)">5</i><i style="width:2.6px;transform:scaleX(1.0)">’</i><i style="width:9.2px;transform:scaleX(1.1)">9</i><i style="width:6.2px;transform:scaleX(1.25)">”</i></div><div class="t h" style="left:477.60px;top:535.05px;font-size:14px;"><i class="o" style="width:5.5px;transform:scaleX(0.6)">1</i><i style="width:9.2px;transform:scaleX(1.1)">7</i><i style="width:9.2px;transform:scaleX(1.1)">0</i><i style="width:6.5px;transform:scaleX(1.3)">-</i><i class="o" style="width:5.5px;transform:scaleX(0.6)">1</i><i style="width:9.2px;transform:scaleX(1.1)">7</i><i style="width:9.2px;transform:scaleX(1.1)">5</i></div>
<div class="t d" style="left:605.55px;top:519.35px;font-size:14px;"><i class="o" style="width:5.6px;transform:scaleX(0.6)">1</i><i style="width:9.5px;transform:scaleX(1.1)">4</i><i style="width:9.5px;transform:scaleX(1.1)">8</i><i style="width:6.2px;transform:scaleX(1.25)">-</i><i class="o" style="width:5.6px;transform:scaleX(0.6)">1</i><i style="width:9.5px;transform:scaleX(1.1)">7</i><i style="width:9.5px;transform:scaleX(1.1)">3</i></div><div class="t d" style="left:611.15px;top:533.35px;font-size:14px;"><i style="width:9.5px;transform:scaleX(1.1)">6</i><i style="width:9.5px;transform:scaleX(1.1)">7</i><i style="width:6.2px;transform:scaleX(1.25)">-</i><i style="width:9.5px;transform:scaleX(1.1)">7</i><i style="width:9.5px;transform:scaleX(1.1)">9</i></div>
<div class="t lb" style="left:26.18px;top:566.63px;font-size:14.5px;transform:scaleX(1.04);">XL - <i class="o1">1</i>0</div>
<div class="t d" style="left:151.90px;top:559.15px;font-size:14px;"><i style="width:9.5px;transform:scaleX(1.1)">3</i><i style="width:9.5px;transform:scaleX(1.1)">8</i><i style="width:6.2px;transform:scaleX(1.25)">-</i><i style="width:9.5px;transform:scaleX(1.1)">4</i><i style="width:9.5px;transform:scaleX(1.1)">0</i></div><div class="t d" style="left:151.05px;top:573.35px;font-size:14px;"><i style="width:9.5px;transform:scaleX(1.1)">9</i><i style="width:9.5px;transform:scaleX(1.1)">6</i><i style="width:6.2px;transform:scaleX(1.25)">-</i><i class="o" style="width:5.6px;transform:scaleX(0.6)">1</i><i style="width:9.5px;transform:scaleX(1.1)">0</i><i class="o" style="width:5.6px;transform:scaleX(0.6)">1</i></div>
<div class="t d" style="left:258.40px;top:559.15px;font-size:14px;"><i style="width:9.5px;transform:scaleX(1.1)">3</i><i style="width:9.5px;transform:scaleX(1.1)">3</i><i style="width:6.2px;transform:scaleX(1.25)">-</i><i style="width:9.5px;transform:scaleX(1.1)">3</i><i style="width:9.5px;transform:scaleX(1.1)">5</i></div><div class="t d" style="left:258.40px;top:573.35px;font-size:14px;"><i style="width:9.5px;transform:scaleX(1.1)">8</i><i style="width:9.5px;transform:scaleX(1.1)">4</i><i style="width:6.2px;transform:scaleX(1.25)">-</i><i style="width:9.5px;transform:scaleX(1.1)">8</i><i style="width:9.5px;transform:scaleX(1.1)">9</i></div>
<div class="t d" style="left:364.90px;top:559.15px;font-size:14px;"><i style="width:9.5px;transform:scaleX(1.1)">4</i><i style="width:9.5px;transform:scaleX(1.1)">0</i><i style="width:6.2px;transform:scaleX(1.25)">-</i><i style="width:9.5px;transform:scaleX(1.1)">4</i><i style="width:9.5px;transform:scaleX(1.1)">2</i></div><div class="t d" style="left:361.25px;top:573.35px;font-size:14px;"><i class="o" style="width:5.6px;transform:scaleX(0.6)">1</i><i style="width:9.5px;transform:scaleX(1.1)">0</i><i class="o" style="width:5.6px;transform:scaleX(0.6)">1</i><i style="width:6.2px;transform:scaleX(1.25)">-</i><i class="o" style="width:5.6px;transform:scaleX(0.6)">1</i><i style="width:9.5px;transform:scaleX(1.1)">0</i><i style="width:9.5px;transform:scaleX(1.1)">7</i></div>
<div class="t h" style="left:473.40px;top:557.85px;font-size:14px;"><i style="width:9.2px;transform:scaleX(1.1)">5</i><i style="width:2.6px;transform:scaleX(1.0)">’</i><i style="width:9.2px;transform:scaleX(1.1)">9</i><i style="width:6.2px;transform:scaleX(1.25)">”</i><i style="width:6.5px;transform:scaleX(1.3)">-</i><i style="width:9.2px;transform:scaleX(1.1)">5</i><i style="width:2.6px;transform:scaleX(1.0)">’</i><i class="o" style="width:5.5px;transform:scaleX(0.6)">1</i><i class="o" style="width:5.5px;transform:scaleX(0.6)">1</i><i style="width:6.2px;transform:scaleX(1.25)">”</i></div><div class="t h" style="left:477.60px;top:574.85px;font-size:14px;"><i class="o" style="width:5.5px;transform:scaleX(0.6)">1</i><i style="width:9.2px;transform:scaleX(1.1)">7</i><i style="width:9.2px;transform:scaleX(1.1)">5</i><i style="width:6.5px;transform:scaleX(1.3)">-</i><i class="o" style="width:5.5px;transform:scaleX(0.6)">1</i><i style="width:9.2px;transform:scaleX(1.1)">8</i><i style="width:9.2px;transform:scaleX(1.1)">0</i></div>
<div class="t d" style="left:605.55px;top:559.15px;font-size:14px;"><i class="o" style="width:5.6px;transform:scaleX(0.6)">1</i><i style="width:9.5px;transform:scaleX(1.1)">4</i><i style="width:9.5px;transform:scaleX(1.1)">8</i><i style="width:6.2px;transform:scaleX(1.25)">-</i><i class="o" style="width:5.6px;transform:scaleX(0.6)">1</i><i style="width:9.5px;transform:scaleX(1.1)">7</i><i style="width:9.5px;transform:scaleX(1.1)">3</i></div><div class="t d" style="left:611.15px;top:573.35px;font-size:14px;"><i style="width:9.5px;transform:scaleX(1.1)">6</i><i style="width:9.5px;transform:scaleX(1.1)">7</i><i style="width:6.2px;transform:scaleX(1.25)">-</i><i style="width:9.5px;transform:scaleX(1.1)">7</i><i style="width:9.5px;transform:scaleX(1.1)">9</i></div>
<div class="t lb" style="left:26.18px;top:605.03px;font-size:14.5px;transform:scaleX(1.04);">XLT - <i class="o1">1</i>0L</div>
<div class="t d" style="left:151.90px;top:597.45px;font-size:14px;"><i style="width:9.5px;transform:scaleX(1.1)">3</i><i style="width:9.5px;transform:scaleX(1.1)">8</i><i style="width:6.2px;transform:scaleX(1.25)">-</i><i style="width:9.5px;transform:scaleX(1.1)">4</i><i style="width:9.5px;transform:scaleX(1.1)">0</i></div><div class="t d" style="left:151.05px;top:611.85px;font-size:14px;"><i style="width:9.5px;transform:scaleX(1.1)">9</i><i style="width:9.5px;transform:scaleX(1.1)">6</i><i style="width:6.2px;transform:scaleX(1.25)">-</i><i class="o" style="width:5.6px;transform:scaleX(0.6)">1</i><i style="width:9.5px;transform:scaleX(1.1)">0</i><i class="o" style="width:5.6px;transform:scaleX(0.6)">1</i></div>
<div class="t d" style="left:258.40px;top:597.45px;font-size:14px;"><i style="width:9.5px;transform:scaleX(1.1)">3</i><i style="width:9.5px;transform:scaleX(1.1)">3</i><i style="width:6.2px;transform:scaleX(1.25)">-</i><i style="width:9.5px;transform:scaleX(1.1)">3</i><i style="width:9.5px;transform:scaleX(1.1)">5</i></div><div class="t d" style="left:258.40px;top:611.85px;font-size:14px;"><i style="width:9.5px;transform:scaleX(1.1)">8</i><i style="width:9.5px;transform:scaleX(1.1)">4</i><i style="width:6.2px;transform:scaleX(1.25)">-</i><i style="width:9.5px;transform:scaleX(1.1)">8</i><i style="width:9.5px;transform:scaleX(1.1)">9</i></div>
<div class="t d" style="left:364.90px;top:597.45px;font-size:14px;"><i style="width:9.5px;transform:scaleX(1.1)">4</i><i style="width:9.5px;transform:scaleX(1.1)">0</i><i style="width:6.2px;transform:scaleX(1.25)">-</i><i style="width:9.5px;transform:scaleX(1.1)">4</i><i style="width:9.5px;transform:scaleX(1.1)">2</i></div><div class="t d" style="left:361.25px;top:611.85px;font-size:14px;"><i class="o" style="width:5.6px;transform:scaleX(0.6)">1</i><i style="width:9.5px;transform:scaleX(1.1)">0</i><i class="o" style="width:5.6px;transform:scaleX(0.6)">1</i><i style="width:6.2px;transform:scaleX(1.25)">-</i><i class="o" style="width:5.6px;transform:scaleX(0.6)">1</i><i style="width:9.5px;transform:scaleX(1.1)">0</i><i style="width:9.5px;transform:scaleX(1.1)">7</i></div>
<div class="t h" style="left:475.25px;top:597.45px;font-size:14px;"><i style="width:9.2px;transform:scaleX(1.1)">5</i><i style="width:2.6px;transform:scaleX(1.0)">’</i><i class="o" style="width:5.5px;transform:scaleX(0.6)">1</i><i class="o" style="width:5.5px;transform:scaleX(0.6)">1</i><i style="width:6.2px;transform:scaleX(1.25)">”</i><i style="width:6.5px;transform:scaleX(1.3)">-</i><i style="width:9.2px;transform:scaleX(1.1)">6</i><i style="width:2.6px;transform:scaleX(1.0)">’</i><i class="o" style="width:5.5px;transform:scaleX(0.6)">1</i><i style="width:6.2px;transform:scaleX(1.25)">”</i></div><div class="t h" style="left:477.60px;top:611.85px;font-size:14px;"><i class="o" style="width:5.5px;transform:scaleX(0.6)">1</i><i style="width:9.2px;transform:scaleX(1.1)">8</i><i style="width:9.2px;transform:scaleX(1.1)">0</i><i style="width:6.5px;transform:scaleX(1.3)">-</i><i class="o" style="width:5.5px;transform:scaleX(0.6)">1</i><i style="width:9.2px;transform:scaleX(1.1)">8</i><i style="width:9.2px;transform:scaleX(1.1)">5</i></div>
<div class="t d" style="left:605.55px;top:597.45px;font-size:14px;"><i class="o" style="width:5.6px;transform:scaleX(0.6)">1</i><i style="width:9.5px;transform:scaleX(1.1)">4</i><i style="width:9.5px;transform:scaleX(1.1)">8</i><i style="width:6.2px;transform:scaleX(1.25)">-</i><i class="o" style="width:5.6px;transform:scaleX(0.6)">1</i><i style="width:9.5px;transform:scaleX(1.1)">7</i><i style="width:9.5px;transform:scaleX(1.1)">3</i></div><div class="t d" style="left:611.15px;top:611.85px;font-size:14px;"><i style="width:9.5px;transform:scaleX(1.1)">6</i><i style="width:9.5px;transform:scaleX(1.1)">7</i><i style="width:6.2px;transform:scaleX(1.25)">-</i><i style="width:9.5px;transform:scaleX(1.1)">7</i><i style="width:9.5px;transform:scaleX(1.1)">9</i></div>
<div class="t lb" style="left:25.87px;top:644.78px;font-size:14.5px;transform:scaleX(1.04);">2XLS - <i class="o1">1</i>2S</div>
<div class="t d" style="left:151.90px;top:637.45px;font-size:14px;"><i style="width:9.5px;transform:scaleX(1.1)">4</i><i style="width:9.5px;transform:scaleX(1.1)">0</i><i style="width:6.2px;transform:scaleX(1.25)">-</i><i style="width:9.5px;transform:scaleX(1.1)">4</i><i style="width:9.5px;transform:scaleX(1.1)">2</i></div><div class="t d" style="left:148.25px;top:651.35px;font-size:14px;"><i class="o" style="width:5.6px;transform:scaleX(0.6)">1</i><i style="width:9.5px;transform:scaleX(1.1)">0</i><i class="o" style="width:5.6px;transform:scaleX(0.6)">1</i><i style="width:6.2px;transform:scaleX(1.25)">-</i><i class="o" style="width:5.6px;transform:scaleX(0.6)">1</i><i style="width:9.5px;transform:scaleX(1.1)">0</i><i style="width:9.5px;transform:scaleX(1.1)">7</i></div>
<div class="t d" style="left:258.40px;top:637.45px;font-size:14px;"><i style="width:9.5px;transform:scaleX(1.1)">3</i><i style="width:9.5px;transform:scaleX(1.1)">5</i><i style="width:6.2px;transform:scaleX(1.25)">-</i><i style="width:9.5px;transform:scaleX(1.1)">3</i><i style="width:9.5px;transform:scaleX(1.1)">7</i></div><div class="t d" style="left:258.40px;top:651.35px;font-size:14px;"><i style="width:9.5px;transform:scaleX(1.1)">8</i><i style="width:9.5px;transform:scaleX(1.1)">9</i><i style="width:6.2px;transform:scaleX(1.25)">-</i><i style="width:9.5px;transform:scaleX(1.1)">9</i><i style="width:9.5px;transform:scaleX(1.1)">4</i></div>
<div class="t d" style="left:364.90px;top:637.45px;font-size:14px;"><i style="width:9.5px;transform:scaleX(1.1)">4</i><i style="width:9.5px;transform:scaleX(1.1)">2</i><i style="width:6.2px;transform:scaleX(1.25)">-</i><i style="width:9.5px;transform:scaleX(1.1)">4</i><i style="width:9.5px;transform:scaleX(1.1)">4</i></div><div class="t d" style="left:361.25px;top:651.35px;font-size:14px;"><i class="o" style="width:5.6px;transform:scaleX(0.6)">1</i><i style="width:9.5px;transform:scaleX(1.1)">0</i><i style="width:9.5px;transform:scaleX(1.1)">7</i><i style="width:6.2px;transform:scaleX(1.25)">-</i><i class="o" style="width:5.6px;transform:scaleX(0.6)">1</i><i class="o" style="width:5.6px;transform:scaleX(0.6)">1</i><i style="width:9.5px;transform:scaleX(1.1)">2</i></div>
<div class="t h" style="left:473.40px;top:635.75px;font-size:14px;"><i style="width:9.2px;transform:scaleX(1.1)">5</i><i style="width:2.6px;transform:scaleX(1.0)">’</i><i style="width:9.2px;transform:scaleX(1.1)">9</i><i style="width:6.2px;transform:scaleX(1.25)">”</i><i style="width:6.5px;transform:scaleX(1.3)">-</i><i style="width:9.2px;transform:scaleX(1.1)">5</i><i style="width:2.6px;transform:scaleX(1.0)">’</i><i class="o" style="width:5.5px;transform:scaleX(0.6)">1</i><i class="o" style="width:5.5px;transform:scaleX(0.6)">1</i><i style="width:6.2px;transform:scaleX(1.25)">”</i></div><div class="t h" style="left:477.60px;top:653.55px;font-size:14px;"><i class="o" style="width:5.5px;transform:scaleX(0.6)">1</i><i style="width:9.2px;transform:scaleX(1.1)">7</i><i style="width:9.2px;transform:scaleX(1.1)">5</i><i style="width:6.5px;transform:scaleX(1.3)">-</i><i class="o" style="width:5.5px;transform:scaleX(0.6)">1</i><i style="width:9.2px;transform:scaleX(1.1)">8</i><i style="width:9.2px;transform:scaleX(1.1)">0</i></div>
<div class="t d" style="left:605.55px;top:637.45px;font-size:14px;"><i class="o" style="width:5.6px;transform:scaleX(0.6)">1</i><i style="width:9.5px;transform:scaleX(1.1)">5</i><i style="width:9.5px;transform:scaleX(1.1)">9</i><i style="width:6.2px;transform:scaleX(1.25)">-</i><i class="o" style="width:5.6px;transform:scaleX(0.6)">1</i><i style="width:9.5px;transform:scaleX(1.1)">8</i><i style="width:9.5px;transform:scaleX(1.1)">4</i></div><div class="t d" style="left:611.15px;top:651.35px;font-size:14px;"><i style="width:9.5px;transform:scaleX(1.1)">7</i><i style="width:9.5px;transform:scaleX(1.1)">2</i><i style="width:6.2px;transform:scaleX(1.25)">-</i><i style="width:9.5px;transform:scaleX(1.1)">8</i><i style="width:9.5px;transform:scaleX(1.1)">4</i></div>
<div class="t lb" style="left:25.87px;top:683.08px;font-size:14.5px;transform:scaleX(1.04);">2XL - <i class="o1">1</i>2</div>
<div class="t d" style="left:151.90px;top:675.75px;font-size:14px;"><i style="width:9.5px;transform:scaleX(1.1)">4</i><i style="width:9.5px;transform:scaleX(1.1)">0</i><i style="width:6.2px;transform:scaleX(1.25)">-</i><i style="width:9.5px;transform:scaleX(1.1)">4</i><i style="width:9.5px;transform:scaleX(1.1)">2</i></div><div class="t d" style="left:148.25px;top:689.65px;font-size:14px;"><i class="o" style="width:5.6px;transform:scaleX(0.6)">1</i><i style="width:9.5px;transform:scaleX(1.1)">0</i><i class="o" style="width:5.6px;transform:scaleX(0.6)">1</i><i style="width:6.2px;transform:scaleX(1.25)">-</i><i class="o" style="width:5.6px;transform:scaleX(0.6)">1</i><i style="width:9.5px;transform:scaleX(1.1)">0</i><i style="width:9.5px;transform:scaleX(1.1)">7</i></div>
<div class="t d" style="left:258.40px;top:675.75px;font-size:14px;"><i style="width:9.5px;transform:scaleX(1.1)">3</i><i style="width:9.5px;transform:scaleX(1.1)">5</i><i style="width:6.2px;transform:scaleX(1.25)">-</i><i style="width:9.5px;transform:scaleX(1.1)">3</i><i style="width:9.5px;transform:scaleX(1.1)">7</i></div><div class="t d" style="left:258.40px;top:689.65px;font-size:14px;"><i style="width:9.5px;transform:scaleX(1.1)">8</i><i style="width:9.5px;transform:scaleX(1.1)">9</i><i style="width:6.2px;transform:scaleX(1.25)">-</i><i style="width:9.5px;transform:scaleX(1.1)">9</i><i style="width:9.5px;transform:scaleX(1.1)">4</i></div>
<div class="t d" style="left:364.90px;top:675.75px;font-size:14px;"><i style="width:9.5px;transform:scaleX(1.1)">4</i><i style="width:9.5px;transform:scaleX(1.1)">2</i><i style="width:6.2px;transform:scaleX(1.25)">-</i><i style="width:9.5px;transform:scaleX(1.1)">4</i><i style="width:9.5px;transform:scaleX(1.1)">4</i></div><div class="t d" style="left:361.25px;top:689.65px;font-size:14px;"><i class="o" style="width:5.6px;transform:scaleX(0.6)">1</i><i style="width:9.5px;transform:scaleX(1.1)">0</i><i style="width:9.5px;transform:scaleX(1.1)">7</i><i style="width:6.2px;transform:scaleX(1.25)">-</i><i class="o" style="width:5.6px;transform:scaleX(0.6)">1</i><i class="o" style="width:5.6px;transform:scaleX(0.6)">1</i><i style="width:9.5px;transform:scaleX(1.1)">2</i></div>
<div class="t h" style="left:475.25px;top:676.05px;font-size:14px;"><i style="width:9.2px;transform:scaleX(1.1)">5</i><i style="width:2.6px;transform:scaleX(1.0)">’</i><i class="o" style="width:5.5px;transform:scaleX(0.6)">1</i><i class="o" style="width:5.5px;transform:scaleX(0.6)">1</i><i style="width:6.2px;transform:scaleX(1.25)">”</i><i style="width:6.5px;transform:scaleX(1.3)">-</i><i style="width:9.2px;transform:scaleX(1.1)">6</i><i style="width:2.6px;transform:scaleX(1.0)">’</i><i class="o" style="width:5.5px;transform:scaleX(0.6)">1</i><i style="width:6.2px;transform:scaleX(1.25)">”</i></div><div class="t h" style="left:477.60px;top:688.45px;font-size:14px;"><i class="o" style="width:5.5px;transform:scaleX(0.6)">1</i><i style="width:9.2px;transform:scaleX(1.1)">8</i><i style="width:9.2px;transform:scaleX(1.1)">0</i><i style="width:6.5px;transform:scaleX(1.3)">-</i><i class="o" style="width:5.5px;transform:scaleX(0.6)">1</i><i style="width:9.2px;transform:scaleX(1.1)">8</i><i style="width:9.2px;transform:scaleX(1.1)">5</i></div>
<div class="t d" style="left:605.55px;top:675.75px;font-size:14px;"><i class="o" style="width:5.6px;transform:scaleX(0.6)">1</i><i style="width:9.5px;transform:scaleX(1.1)">5</i><i style="width:9.5px;transform:scaleX(1.1)">9</i><i style="width:6.2px;transform:scaleX(1.25)">-</i><i class="o" style="width:5.6px;transform:scaleX(0.6)">1</i><i style="width:9.5px;transform:scaleX(1.1)">8</i><i style="width:9.5px;transform:scaleX(1.1)">4</i></div><div class="t d" style="left:611.15px;top:689.65px;font-size:14px;"><i style="width:9.5px;transform:scaleX(1.1)">7</i><i style="width:9.5px;transform:scaleX(1.1)">2</i><i style="width:6.2px;transform:scaleX(1.25)">-</i><i style="width:9.5px;transform:scaleX(1.1)">8</i><i style="width:9.5px;transform:scaleX(1.1)">4</i></div>
<div class="t lb" style="left:26.08px;top:720.73px;font-size:14.5px;transform:scaleX(1.04);">3XL - <i class="o1">1</i>4</div>
<div class="t d" style="left:151.90px;top:712.55px;font-size:14px;"><i style="width:9.5px;transform:scaleX(1.1)">4</i><i style="width:9.5px;transform:scaleX(1.1)">2</i><i style="width:6.2px;transform:scaleX(1.25)">-</i><i style="width:9.5px;transform:scaleX(1.1)">4</i><i style="width:9.5px;transform:scaleX(1.1)">4</i></div><div class="t d" style="left:148.25px;top:728.15px;font-size:14px;"><i class="o" style="width:5.6px;transform:scaleX(0.6)">1</i><i style="width:9.5px;transform:scaleX(1.1)">0</i><i style="width:9.5px;transform:scaleX(1.1)">7</i><i style="width:6.2px;transform:scaleX(1.25)">-</i><i class="o" style="width:5.6px;transform:scaleX(0.6)">1</i><i class="o" style="width:5.6px;transform:scaleX(0.6)">1</i><i style="width:9.5px;transform:scaleX(1.1)">2</i></div>
<div class="t d" style="left:258.40px;top:712.55px;font-size:14px;"><i style="width:9.5px;transform:scaleX(1.1)">3</i><i style="width:9.5px;transform:scaleX(1.1)">7</i><i style="width:6.2px;transform:scaleX(1.25)">-</i><i style="width:9.5px;transform:scaleX(1.1)">3</i><i style="width:9.5px;transform:scaleX(1.1)">9</i></div><div class="t d" style="left:258.40px;top:728.15px;font-size:14px;"><i style="width:9.5px;transform:scaleX(1.1)">9</i><i style="width:9.5px;transform:scaleX(1.1)">4</i><i style="width:6.2px;transform:scaleX(1.25)">-</i><i style="width:9.5px;transform:scaleX(1.1)">9</i><i style="width:9.5px;transform:scaleX(1.1)">9</i></div>
<div class="t d" style="left:364.90px;top:712.55px;font-size:14px;"><i style="width:9.5px;transform:scaleX(1.1)">4</i><i style="width:9.5px;transform:scaleX(1.1)">3</i><i style="width:6.2px;transform:scaleX(1.25)">-</i><i style="width:9.5px;transform:scaleX(1.1)">4</i><i style="width:9.5px;transform:scaleX(1.1)">5</i></div><div class="t d" style="left:361.25px;top:728.15px;font-size:14px;"><i class="o" style="width:5.6px;transform:scaleX(0.6)">1</i><i style="width:9.5px;transform:scaleX(1.1)">0</i><i style="width:9.5px;transform:scaleX(1.1)">9</i><i style="width:6.2px;transform:scaleX(1.25)">-</i><i class="o" style="width:5.6px;transform:scaleX(0.6)">1</i><i class="o" style="width:5.6px;transform:scaleX(0.6)">1</i><i style="width:9.5px;transform:scaleX(1.1)">4</i></div>
<div class="t h" style="left:488.75px;top:711.55px;font-size:14px;"><i style="width:8.5px;transform:scaleX(1.0)">&gt;</i><i style="width:9.2px;transform:scaleX(1.1)">6</i><i style="width:2.6px;transform:scaleX(1.0)">’</i><i class="o" style="width:5.5px;transform:scaleX(0.6)">1</i><i style="width:6.2px;transform:scaleX(1.25)">”</i></div><div class="t h" style="left:488.55px;top:727.55px;font-size:14px;"><i style="width:8.5px;transform:scaleX(1.0)">&gt;</i><i class="o" style="width:5.5px;transform:scaleX(0.6)">1</i><i style="width:9.2px;transform:scaleX(1.1)">8</i><i style="width:9.2px;transform:scaleX(1.1)">5</i></div>
<div class="t d" style="left:618.65px;top:712.55px;font-size:14px;"><i style="width:8.5px;transform:scaleX(1.0)">&gt;</i><i class="o" style="width:5.6px;transform:scaleX(0.6)">1</i><i style="width:9.5px;transform:scaleX(1.1)">8</i><i class="o" style="width:5.6px;transform:scaleX(0.6)">1</i></div><div class="t d" style="left:619.50px;top:728.15px;font-size:14px;"><i style="width:8.5px;transform:scaleX(1.0)">&gt;</i><i style="width:9.5px;transform:scaleX(1.1)">8</i><i style="width:9.5px;transform:scaleX(1.1)">2</i></div>
<div class="t lb" style="left:26.29px;top:758.63px;font-size:14.5px;transform:scaleX(1.04);">4XL - <i class="o1">1</i>6</div>
<div class="t d" style="left:151.90px;top:750.75px;font-size:14px;"><i style="width:9.5px;transform:scaleX(1.1)">4</i><i style="width:9.5px;transform:scaleX(1.1)">3</i><i style="width:6.2px;transform:scaleX(1.25)">-</i><i style="width:9.5px;transform:scaleX(1.1)">4</i><i style="width:9.5px;transform:scaleX(1.1)">5</i></div><div class="t d" style="left:148.25px;top:765.75px;font-size:14px;"><i class="o" style="width:5.6px;transform:scaleX(0.6)">1</i><i style="width:9.5px;transform:scaleX(1.1)">0</i><i style="width:9.5px;transform:scaleX(1.1)">9</i><i style="width:6.2px;transform:scaleX(1.25)">-</i><i class="o" style="width:5.6px;transform:scaleX(0.6)">1</i><i class="o" style="width:5.6px;transform:scaleX(0.6)">1</i><i style="width:9.5px;transform:scaleX(1.1)">4</i></div>
<div class="t d" style="left:258.40px;top:750.75px;font-size:14px;"><i style="width:9.5px;transform:scaleX(1.1)">3</i><i style="width:9.5px;transform:scaleX(1.1)">8</i><i style="width:6.2px;transform:scaleX(1.25)">-</i><i style="width:9.5px;transform:scaleX(1.1)">4</i><i style="width:9.5px;transform:scaleX(1.1)">0</i></div><div class="t d" style="left:257.55px;top:765.75px;font-size:14px;"><i style="width:9.5px;transform:scaleX(1.1)">9</i><i style="width:9.5px;transform:scaleX(1.1)">6</i><i style="width:6.2px;transform:scaleX(1.25)">-</i><i class="o" style="width:5.6px;transform:scaleX(0.6)">1</i><i style="width:9.5px;transform:scaleX(1.1)">0</i><i class="o" style="width:5.6px;transform:scaleX(0.6)">1</i></div>
<div class="t d" style="left:364.90px;top:750.75px;font-size:14px;"><i style="width:9.5px;transform:scaleX(1.1)">4</i><i style="width:9.5px;transform:scaleX(1.1)">5</i><i style="width:6.2px;transform:scaleX(1.25)">-</i><i style="width:9.5px;transform:scaleX(1.1)">4</i><i style="width:9.5px;transform:scaleX(1.1)">7</i></div><div class="t d" style="left:363.20px;top:765.75px;font-size:14px;"><i class="o" style="width:5.6px;transform:scaleX(0.6)">1</i><i class="o" style="width:5.6px;transform:scaleX(0.6)">1</i><i style="width:9.5px;transform:scaleX(1.1)">4</i><i style="width:6.2px;transform:scaleX(1.25)">-</i><i class="o" style="width:5.6px;transform:scaleX(0.6)">1</i><i class="o" style="width:5.6px;transform:scaleX(0.6)">1</i><i style="width:9.5px;transform:scaleX(1.1)">9</i></div>
<div class="t h" style="left:488.75px;top:750.65px;font-size:14px;"><i style="width:8.5px;transform:scaleX(1.0)">&gt;</i><i style="width:9.2px;transform:scaleX(1.1)">6</i><i style="width:2.6px;transform:scaleX(1.0)">’</i><i class="o" style="width:5.5px;transform:scaleX(0.6)">1</i><i style="width:6.2px;transform:scaleX(1.25)">”</i></div><div class="t h" style="left:488.55px;top:764.25px;font-size:14px;"><i style="width:8.5px;transform:scaleX(1.0)">&gt;</i><i class="o" style="width:5.5px;transform:scaleX(0.6)">1</i><i style="width:9.2px;transform:scaleX(1.1)">8</i><i style="width:9.2px;transform:scaleX(1.1)">5</i></div>
<div class="t d" style="left:618.65px;top:750.75px;font-size:14px;"><i style="width:8.5px;transform:scaleX(1.0)">&gt;</i><i class="o" style="width:5.6px;transform:scaleX(0.6)">1</i><i style="width:9.5px;transform:scaleX(1.1)">8</i><i class="o" style="width:5.6px;transform:scaleX(0.6)">1</i></div><div class="t d" style="left:619.50px;top:765.75px;font-size:14px;"><i style="width:8.5px;transform:scaleX(1.0)">&gt;</i><i style="width:9.5px;transform:scaleX(1.1)">8</i><i style="width:9.5px;transform:scaleX(1.1)">2</i></div>
<div class="a" style="left:20.5px;top:810.7px;width:677.5px;height:38px;background:#8556a7;border-top:1px solid #6a4589;box-sizing:border-box;"></div>
<div class="a" style="left:20px;top:848.7px;width:678px;height:456.3px;background:#eaeef7;border:1px solid #a9abb0;border-top:none;box-sizing:border-box;"></div>
<div class="t w tt2" style="left:158.91px;top:815.83px;font-size:28.2px;transform:scaleX(0.9524);">HOW SHOULD YOU MEASURE?</div>
<div class="t p" style="left:42.86px;top:866.86px;font-size:16px;transform:scaleX(1.0240);">If you plan to wear a swimsuit or other items under your divewear, you should measure</div>
<div class="t p" style="left:44.20px;top:884.86px;font-size:16px;transform:scaleX(1.0283);">yourself while wearing those garments, keeping the tape measure parallel to the floor.</div>
<div class="t p" style="left:225.18px;top:974.76px;font-size:16px;transform:scaleX(1.0270);"><b>CHEST:</b> Measure around the fullest part of your chest.</div>
<div class="t p" style="left:239.80px;top:1035.56px;font-size:16px;transform:scaleX(1.0276);"><b>WAIST:</b> Measure at the narrowest point of your waist.</div>
<div class="t p" style="left:239.07px;top:1085.66px;font-size:16px;transform:scaleX(1.0229);"><b>HIPS:</b> Stand with your heels together and measure</div>
<div class="t p" style="left:239.47px;top:1103.56px;font-size:16px;transform:scaleX(1.0405);">around the fullest part of your hips.</div>
<svg class="a" style="left:0;top:0;" width="720" height="1308" viewBox="0 0 720 1308">
<g stroke-linejoin="round">
<ellipse cx="138.5" cy="1044.8" rx="46.5" ry="2.6" fill="none" stroke="#e2703c" stroke-width="2"/>
<path d="M115.80,926.00 C115.80,926.00 122.35,922.62 125.60,921.90 C128.85,921.18 132.30,921.47 135.30,921.70 C138.30,921.93 141.75,922.57 143.60,923.30 C145.45,924.03 146.40,926.10 146.40,926.10 C146.40,926.10 147.00,933.00 147.00,933.00 C147.00,933.00 151.13,933.82 153.90,934.40 C156.67,934.98 160.82,935.45 163.60,936.50 C166.38,937.55 168.52,938.95 170.60,940.70 C172.68,942.45 174.48,944.33 176.10,947.00 C177.72,949.67 179.25,953.23 180.30,956.70 C181.35,960.17 181.83,964.10 182.40,967.80 C182.97,971.50 183.32,975.87 183.75,978.90 C184.18,981.93 184.21,983.37 185.00,986.00 C185.79,988.63 187.18,991.13 188.50,994.70 C189.82,998.27 191.35,1003.18 192.90,1007.40 C194.45,1011.62 196.02,1015.63 197.80,1020.00 C199.58,1024.37 201.67,1029.07 203.60,1033.60 C205.53,1038.13 207.62,1042.98 209.40,1047.20 C211.18,1051.42 212.83,1055.33 214.30,1058.90 C215.77,1062.47 217.47,1066.65 218.20,1068.60 C218.93,1070.55 218.70,1070.60 218.70,1070.60 C218.70,1070.60 217.20,1072.50 217.20,1072.50 C217.20,1072.50 206.50,1078.80 206.50,1078.80 C206.50,1078.80 205.10,1077.40 205.10,1077.40 C205.10,1077.40 200.57,1069.43 198.70,1065.70 C196.83,1061.97 195.35,1058.08 193.90,1055.00 C192.45,1051.92 190.00,1047.20 190.00,1047.20 C190.00,1047.20 198.70,1033.60 198.70,1033.60 C198.70,1033.60 193.83,1019.38 191.90,1014.20 C189.97,1009.02 188.55,1006.40 187.10,1002.50 C185.65,998.60 183.20,990.80 183.20,990.80 C183.20,990.80 181.50,989.50 181.50,989.50 C181.50,989.50 179.50,991.00 179.50,991.00 C179.50,991.00 178.42,993.70 178.30,996.70 C178.18,999.70 178.88,1005.12 178.80,1009.00 C178.72,1012.88 177.80,1020.00 177.80,1020.00 C177.80,1020.00 173.50,1012.70 173.50,1012.70 C173.50,1012.70 172.65,1015.83 172.00,1019.00 C171.35,1022.17 170.17,1027.65 169.60,1031.70 C169.03,1035.75 168.77,1039.25 168.60,1043.30 C168.43,1047.35 168.27,1052.43 168.60,1056.00 C168.93,1059.57 169.63,1061.47 170.60,1064.70 C171.57,1067.93 173.12,1071.68 174.40,1075.40 C175.68,1079.12 176.82,1082.07 178.30,1087.00 C179.78,1091.93 181.65,1099.50 183.30,1105.00 C184.95,1110.50 186.62,1114.95 188.20,1120.00 C189.78,1125.05 191.53,1128.93 192.80,1135.30 C194.07,1141.67 195.03,1150.57 195.80,1158.20 C196.57,1165.83 197.90,1174.73 197.40,1181.10 C196.90,1187.47 194.85,1190.80 192.80,1196.40 C190.75,1202.00 187.13,1209.10 185.10,1214.70 C183.07,1220.30 182.28,1225.28 180.60,1230.00 C178.92,1234.72 176.48,1239.38 175.00,1243.00 C173.52,1246.62 173.08,1248.58 171.70,1251.70 C170.32,1254.82 166.70,1261.70 166.70,1261.70 C166.70,1261.70 163.00,1264.50 163.00,1264.50 C163.00,1264.50 160.00,1265.00 160.00,1265.00 C160.00,1265.00 146.00,1259.50 146.00,1259.50 C146.00,1259.50 145.00,1257.50 145.00,1257.50 C145.00,1257.50 145.58,1252.60 146.70,1248.30 C147.82,1244.00 150.60,1235.87 151.70,1231.70 C152.80,1227.53 152.57,1226.63 153.30,1223.30 C154.03,1219.97 154.87,1216.18 156.10,1211.70 C157.33,1207.22 159.17,1200.98 160.70,1196.40 C162.23,1191.82 165.30,1184.20 165.30,1184.20 C165.30,1184.20 161.67,1166.87 159.20,1158.20 C156.73,1149.53 150.50,1132.20 150.50,1132.20 C150.50,1132.20 149.20,1131.80 149.20,1131.80 C149.20,1131.80 147.88,1137.23 147.00,1142.90 C146.12,1148.57 144.93,1158.92 143.90,1165.80 C142.87,1172.68 142.07,1178.33 140.80,1184.20 C139.53,1190.07 137.43,1195.15 136.30,1201.00 C135.17,1206.85 134.52,1214.47 134.00,1219.30 C133.48,1224.13 133.45,1222.38 133.20,1230.00 C132.95,1237.62 132.62,1256.17 132.50,1265.00 C132.38,1273.83 132.50,1283.00 132.50,1283.00 C132.50,1283.00 124.00,1284.50 124.00,1284.50 C124.00,1284.50 116.70,1285.00 116.70,1285.00 C116.70,1285.00 115.98,1283.02 115.00,1278.30 C114.02,1273.58 112.05,1264.47 110.80,1256.70 C109.55,1248.93 108.10,1239.20 107.50,1231.70 C106.90,1224.20 106.87,1218.85 107.20,1211.70 C107.53,1204.55 108.98,1196.45 109.50,1188.80 C110.02,1181.15 110.55,1173.45 110.30,1165.80 C110.05,1158.15 108.90,1150.53 108.00,1142.90 C107.10,1135.27 106.23,1126.62 104.90,1120.00 C103.57,1113.38 101.30,1107.62 100.00,1103.20 C98.70,1098.78 97.83,1096.75 97.10,1093.50 C96.37,1090.25 95.60,1087.75 95.60,1083.70 C95.60,1079.65 96.20,1074.05 97.10,1069.20 C98.00,1064.35 99.55,1059.47 101.00,1054.60 C102.45,1049.73 104.33,1043.83 105.80,1040.00 C107.27,1036.17 108.65,1035.65 109.80,1031.60 C110.95,1027.55 112.53,1020.18 112.70,1015.70 C112.87,1011.22 112.28,1009.60 110.80,1004.70 C109.32,999.80 103.80,986.30 103.80,986.30 C103.80,986.30 96.88,996.25 94.90,1001.80 C92.92,1007.35 92.48,1013.32 91.90,1019.60 C91.32,1025.88 91.52,1032.87 91.40,1039.50 C91.28,1046.13 91.23,1051.95 91.20,1059.40 C91.17,1066.85 91.20,1084.20 91.20,1084.20 C91.20,1084.20 78.10,1085.70 78.10,1085.70 C78.10,1085.70 78.00,1083.55 77.60,1080.80 C77.20,1078.05 76.42,1073.57 75.70,1069.20 C74.98,1064.83 73.87,1059.47 73.30,1054.60 C72.73,1049.73 72.48,1045.83 72.30,1040.00 C72.12,1034.17 72.02,1024.93 72.20,1019.60 C72.38,1014.27 72.83,1011.55 73.40,1008.00 C73.97,1004.45 74.70,1001.63 75.60,998.30 C76.50,994.97 77.88,990.88 78.80,988.00 C79.72,985.12 80.37,983.45 81.10,981.00 C81.83,978.55 82.50,976.67 83.20,973.30 C83.90,969.93 84.50,964.50 85.30,960.80 C86.10,957.10 86.85,954.10 88.00,951.10 C89.15,948.10 90.57,945.23 92.20,942.80 C93.83,940.37 95.72,938.13 97.80,936.50 C99.88,934.87 102.38,933.80 104.70,933.00 C107.02,932.20 110.08,932.62 111.70,931.70 C113.32,930.78 114.40,927.50 114.40,927.50 C114.40,927.50 115.80,926.00 115.80,926.00 Z" fill="#0f74b4" stroke="#ffffff" stroke-width="3.4"/>
<path d="M179.5,990.5 L183.5,990.0 L198.7,1033.3 L190.0,1047.2 L177.6,1021.5 L178.8,1009.0 L178.3,996.7 Z" fill="#ffffff"/>
<path d="M177.6,1021.5 L190,1047.2" stroke="#1b4f86" stroke-width="0.8" fill="none"/>
<path d="M115.80,926.00 C115.80,926.00 122.35,922.62 125.60,921.90 C128.85,921.18 132.30,921.47 135.30,921.70 C138.30,921.93 141.75,922.57 143.60,923.30 C145.45,924.03 146.40,926.10 146.40,926.10 C146.40,926.10 147.00,933.00 147.00,933.00 C147.00,933.00 151.13,933.82 153.90,934.40 C156.67,934.98 160.82,935.45 163.60,936.50 C166.38,937.55 168.52,938.95 170.60,940.70 C172.68,942.45 174.48,944.33 176.10,947.00 C177.72,949.67 179.25,953.23 180.30,956.70 C181.35,960.17 181.83,964.10 182.40,967.80 C182.97,971.50 183.32,975.87 183.75,978.90 C184.18,981.93 184.21,983.37 185.00,986.00 C185.79,988.63 187.18,991.13 188.50,994.70 C189.82,998.27 191.35,1003.18 192.90,1007.40 C194.45,1011.62 196.02,1015.63 197.80,1020.00 C199.58,1024.37 201.67,1029.07 203.60,1033.60 C205.53,1038.13 207.62,1042.98 209.40,1047.20 C211.18,1051.42 212.83,1055.33 214.30,1058.90 C215.77,1062.47 217.47,1066.65 218.20,1068.60 C218.93,1070.55 218.70,1070.60 218.70,1070.60 C218.70,1070.60 217.20,1072.50 217.20,1072.50 C217.20,1072.50 206.50,1078.80 206.50,1078.80 C206.50,1078.80 205.10,1077.40 205.10,1077.40 C205.10,1077.40 200.57,1069.43 198.70,1065.70 C196.83,1061.97 195.35,1058.08 193.90,1055.00 C192.45,1051.92 190.00,1047.20 190.00,1047.20 C190.00,1047.20 198.70,1033.60 198.70,1033.60 C198.70,1033.60 193.83,1019.38 191.90,1014.20 C189.97,1009.02 188.55,1006.40 187.10,1002.50 C185.65,998.60 183.20,990.80 183.20,990.80 C183.20,990.80 181.50,989.50 181.50,989.50 C181.50,989.50 179.50,991.00 179.50,991.00 C179.50,991.00 178.42,993.70 178.30,996.70 C178.18,999.70 178.88,1005.12 178.80,1009.00 C178.72,1012.88 177.80,1020.00 177.80,1020.00 C177.80,1020.00 173.50,1012.70 173.50,1012.70 C173.50,1012.70 172.65,1015.83 172.00,1019.00 C171.35,1022.17 170.17,1027.65 169.60,1031.70 C169.03,1035.75 168.77,1039.25 168.60,1043.30 C168.43,1047.35 168.27,1052.43 168.60,1056.00 C168.93,1059.57 169.63,1061.47 170.60,1064.70 C171.57,1067.93 173.12,1071.68 174.40,1075.40 C175.68,1079.12 176.82,1082.07 178.30,1087.00 C179.78,1091.93 181.65,1099.50 183.30,1105.00 C184.95,1110.50 186.62,1114.95 188.20,1120.00 C189.78,1125.05 191.53,1128.93 192.80,1135.30 C194.07,1141.67 195.03,1150.57 195.80,1158.20 C196.57,1165.83 197.90,1174.73 197.40,1181.10 C196.90,1187.47 194.85,1190.80 192.80,1196.40 C190.75,1202.00 187.13,1209.10 185.10,1214.70 C183.07,1220.30 182.28,1225.28 180.60,1230.00 C178.92,1234.72 176.48,1239.38 175.00,1243.00 C173.52,1246.62 173.08,1248.58 171.70,1251.70 C170.32,1254.82 166.70,1261.70 166.70,1261.70 C166.70,1261.70 163.00,1264.50 163.00,1264.50 C163.00,1264.50 160.00,1265.00 160.00,1265.00 C160.00,1265.00 146.00,1259.50 146.00,1259.50 C146.00,1259.50 145.00,1257.50 145.00,1257.50 C145.00,1257.50 145.58,1252.60 146.70,1248.30 C147.82,1244.00 150.60,1235.87 151.70,1231.70 C152.80,1227.53 152.57,1226.63 153.30,1223.30 C154.03,1219.97 154.87,1216.18 156.10,1211.70 C157.33,1207.22 159.17,1200.98 160.70,1196.40 C162.23,1191.82 165.30,1184.20 165.30,1184.20 C165.30,1184.20 161.67,1166.87 159.20,1158.20 C156.73,1149.53 150.50,1132.20 150.50,1132.20 C150.50,1132.20 149.20,1131.80 149.20,1131.80 C149.20,1131.80 147.88,1137.23 147.00,1142.90 C146.12,1148.57 144.93,1158.92 143.90,1165.80 C142.87,1172.68 142.07,1178.33 140.80,1184.20 C139.53,1190.07 137.43,1195.15 136.30,1201.00 C135.17,1206.85 134.52,1214.47 134.00,1219.30 C133.48,1224.13 133.45,1222.38 133.20,1230.00 C132.95,1237.62 132.62,1256.17 132.50,1265.00 C132.38,1273.83 132.50,1283.00 132.50,1283.00 C132.50,1283.00 124.00,1284.50 124.00,1284.50 C124.00,1284.50 116.70,1285.00 116.70,1285.00 C116.70,1285.00 115.98,1283.02 115.00,1278.30 C114.02,1273.58 112.05,1264.47 110.80,1256.70 C109.55,1248.93 108.10,1239.20 107.50,1231.70 C106.90,1224.20 106.87,1218.85 107.20,1211.70 C107.53,1204.55 108.98,1196.45 109.50,1188.80 C110.02,1181.15 110.55,1173.45 110.30,1165.80 C110.05,1158.15 108.90,1150.53 108.00,1142.90 C107.10,1135.27 106.23,1126.62 104.90,1120.00 C103.57,1113.38 101.30,1107.62 100.00,1103.20 C98.70,1098.78 97.83,1096.75 97.10,1093.50 C96.37,1090.25 95.60,1087.75 95.60,1083.70 C95.60,1079.65 96.20,1074.05 97.10,1069.20 C98.00,1064.35 99.55,1059.47 101.00,1054.60 C102.45,1049.73 104.33,1043.83 105.80,1040.00 C107.27,1036.17 108.65,1035.65 109.80,1031.60 C110.95,1027.55 112.53,1020.18 112.70,1015.70 C112.87,1011.22 112.28,1009.60 110.80,1004.70 C109.32,999.80 103.80,986.30 103.80,986.30 C103.80,986.30 96.88,996.25 94.90,1001.80 C92.92,1007.35 92.48,1013.32 91.90,1019.60 C91.32,1025.88 91.52,1032.87 91.40,1039.50 C91.28,1046.13 91.23,1051.95 91.20,1059.40 C91.17,1066.85 91.20,1084.20 91.20,1084.20 C91.20,1084.20 78.10,1085.70 78.10,1085.70 C78.10,1085.70 78.00,1083.55 77.60,1080.80 C77.20,1078.05 76.42,1073.57 75.70,1069.20 C74.98,1064.83 73.87,1059.47 73.30,1054.60 C72.73,1049.73 72.48,1045.83 72.30,1040.00 C72.12,1034.17 72.02,1024.93 72.20,1019.60 C72.38,1014.27 72.83,1011.55 73.40,1008.00 C73.97,1004.45 74.70,1001.63 75.60,998.30 C76.50,994.97 77.88,990.88 78.80,988.00 C79.72,985.12 80.37,983.45 81.10,981.00 C81.83,978.55 82.50,976.67 83.20,973.30 C83.90,969.93 84.50,964.50 85.30,960.80 C86.10,957.10 86.85,954.10 88.00,951.10 C89.15,948.10 90.57,945.23 92.20,942.80 C93.83,940.37 95.72,938.13 97.80,936.50 C99.88,934.87 102.38,933.80 104.70,933.00 C107.02,932.20 110.08,932.62 111.70,931.70 C113.32,930.78 114.40,927.50 114.40,927.50 C114.40,927.50 115.80,926.00 115.80,926.00 Z" fill="#0f74b4" stroke="none"/>
<path d="M179.5,990.5 L183.5,990.0 L198.7,1033.3 L190.0,1047.2 L177.6,1021.5 L178.8,1009.0 L178.3,996.7 Z" fill="#ffffff"/>
<path d="M177.6,1021.5 L190,1047.2" stroke="#2a4a70" stroke-width="0.8" fill="none"/>
<path d="M161.8,960.2 Q158,956.8 155,958.8 Q152.8,961.5 156.5,964 L162,967.6 Q165.3,970.3 163.2,972.3 Q160.5,974.2 157.3,971.5" stroke="#0b3f78" stroke-width="4" fill="none" stroke-linecap="round" opacity="0.5"/>
<path d="M161.8,960.2 Q158,956.8 155,958.8 Q152.8,961.5 156.5,964 L162,967.6 Q165.3,970.3 163.2,972.3 Q160.5,974.2 157.3,971.5" stroke="#ffffff" stroke-width="2.6" fill="none" stroke-linecap="round"/>
<path d="M116.5,965 Q114,965.5 112.5,968" stroke="#e8f4ff" stroke-width="2.6" fill="none" stroke-linecap="round"/>
<path d="M112.5,968.5 Q108,974 105,981.5" stroke="#8cc4ec" stroke-width="1.1" fill="none"/>
<path d="M147.6,934 L147.9,937" stroke="#8cc4ec" stroke-width="1.2" fill="none" stroke-linecap="round"/>
<path d="M125.8,1100.6 L130.3,1105.6 L125.8,1110.6 L121.4,1105.6 Z" fill="#ffffff" stroke="#0b3f78" stroke-width="0.6"/>
<ellipse cx="125.6" cy="1105.6" rx="1.6" ry="1.1" fill="#1b2a40"/>
<ellipse cx="110.8" cy="1245" rx="1.3" ry="1.8" fill="#e8f4ff"/>
<path d="M83.2,984.5 Q83.5,981.5 85.6,981.8 Q87.6,982.6 86.4,985.5 Q85,988 85.3,991 Q85.6,995 84.6,1000.5" stroke="#e8f4ff" stroke-width="1.4" fill="none"/><path d="M82.6,985.5 Q82,990 81.8,995" stroke="#cfe6f8" stroke-width="1.1" fill="none"/>
<text transform="translate(78.6,999.5) rotate(95)" font-family="Liberation Sans" font-weight="bold" font-size="7" fill="#f4faff" stroke="#f4faff" stroke-width="0.5" textLength="30" lengthAdjust="spacingAndGlyphs">SCUBAPRO</text>
<path d="M102.6,985.7 Q140,987.7 179,986" stroke="#de8460" stroke-width="2.3" fill="none"/>
<circle cx="180.3" cy="985.3" r="1.7" fill="#e2703c"/>
<path d="M92,1045.9 Q138.5,1048.6 185,1045.9" stroke="#de8460" stroke-width="2.2" fill="none"/>
<path d="M91.2,1086 L178,1086.2" stroke="#de8460" stroke-width="2.3" fill="none"/>
<path d="M176.5,1083.3 L186,1085.3 L176.5,1087.6 Z" fill="#e2703c"/>
</g>
</svg>
<svg class="a" style="left:0;top:0;" width="720" height="1308" viewBox="0 0 720 1308">
<defs><path id="tp" d="M359.03,1202.60 A38.6,38.6 0 0 1 431.57,1202.60"/><path id="bp" d="M349.81,1218.98 A45.6,45.6 0 0 0 440.79,1218.98"/></defs>
<circle cx="395.3" cy="1215.8" r="53.4" fill="#f7f8fb"/>
<circle cx="395.3" cy="1215.8" r="51.4" fill="#1570b3"/>
<circle cx="394.90000000000003" cy="1215.8" r="34.9" fill="#ffffff"/>
<circle cx="394.90000000000003" cy="1215.8" r="32.2" fill="#2b2422"/>
<path d="M394,1190.5 L388,1190.8 L383,1193.2 L380.2,1197.5 L379.6,1203 L381,1209.5 L384.5,1214.5 L389.5,1220.5 L394.5,1226 L397.8,1230.2 L399,1234.4 L398.2,1238 L396.6,1240.5 L397.5,1241.5 L403.3,1240.2 L408.2,1235.9 L410.3,1228.3 L409.7,1221 L406,1214.7 L400.3,1208.6 L395.4,1205.6 L391.7,1201.9 L391.1,1196.4 L394.2,1191.5 Z" fill="#fff"/>
<path d="M395.2,1190.8 L402,1191.8 L408.2,1195.2 L411.5,1201.3 L403.3,1208.5 L398.5,1205.2 L395.5,1201 L395,1196 Z" fill="#fff"/>
<path d="M378.4,1226.3 L386.2,1229.8 L392.5,1226.2 L393.3,1241.2 L388,1240.4 L383.6,1237.6 L379.8,1232.6 Z" fill="#fff"/>
<path d="M394.6,1191 Q390.3,1196 391.7,1201.9 Q396,1206.5 404.5,1210.5" stroke="#2b2422" stroke-width="1.1" fill="none"/>
<path d="M395.6,1191.5 L396.2,1199" stroke="#2b2422" stroke-width="1" fill="none"/>
<text font-family="Liberation Sans" font-weight="bold" font-size="11.2" fill="#ffffff" stroke="#fff" stroke-width="0.6"><textPath href="#tp" startOffset="50%" text-anchor="middle" textLength="78" lengthAdjust="spacingAndGlyphs">SCUBAPRO</textPath></text>
<text font-family="Liberation Sans" font-weight="bold" font-size="8" fill="#ffffff" stroke="#fff" stroke-width="0.3"><textPath href="#bp" startOffset="50%" text-anchor="middle" textLength="120" lengthAdjust="spacingAndGlyphs">PROFESSIONAL DIVING EQUIPMENT</textPath></text>
</svg>
</div>
</body></html>
